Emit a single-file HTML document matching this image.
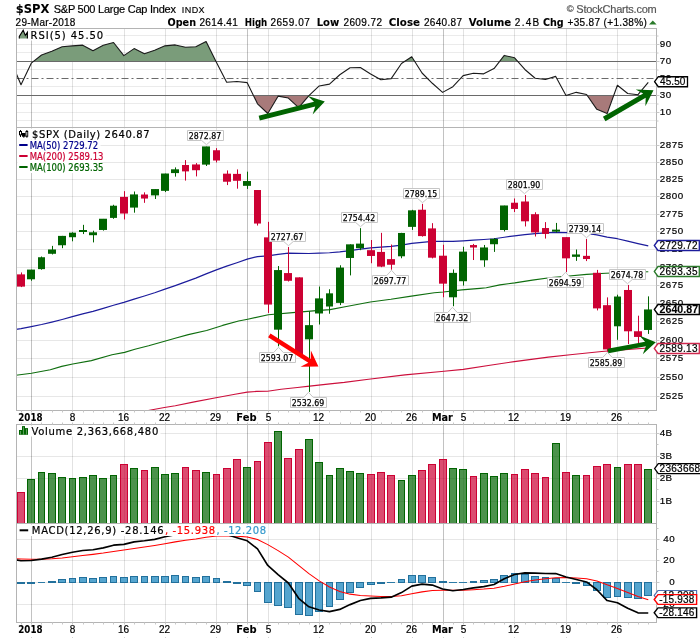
<!DOCTYPE html>
<html><head><meta charset="utf-8"><title>$SPX S&amp;P 500 Large Cap Index</title>
<style>html,body{margin:0;padding:0;background:#fff}svg{display:block;will-change:transform;opacity:0.999}</style></head>
<body><svg width="700" height="639" viewBox="0 0 700 639">
<rect width="700" height="639" fill="#fff"/>
<defs>
<clipPath id="crsi"><rect x="16.5" y="28.5" width="640.0" height="99.0"/></clipPath>
<clipPath id="cmain"><rect x="16.5" y="127.5" width="640.0" height="283.0"/></clipPath>
<clipPath id="cvol"><rect x="16.5" y="424.5" width="640.0" height="99.0"/></clipPath>
<clipPath id="cmacd"><rect x="16.5" y="523.5" width="640.0" height="99.0"/></clipPath>
<clipPath id="cob"><rect x="16.5" y="28.5" width="640.0" height="33.5"/></clipPath>
<clipPath id="cos"><rect x="16.5" y="96.0" width="640.0" height="31.5"/></clipPath>
</defs>
<text x="15.80" y="13.20" font-family='"DejaVu Sans", Verdana, sans-serif' font-size="12.8" font-weight="bold" fill="#000" stroke="#000" stroke-width="0.08" text-anchor="start" textLength="33.60" lengthAdjust="spacingAndGlyphs" >$SPX</text>
<text x="53.70" y="13.00" font-family='"Liberation Sans", Arial, sans-serif' font-size="11" font-weight="normal" fill="#000" stroke="#000" stroke-width="0.2" text-anchor="start" textLength="122.30" lengthAdjust="spacing" >S&amp;P 500 Large Cap Index</text>
<text x="181.80" y="12.50" font-family='"Liberation Sans", Arial, sans-serif' font-size="9" font-weight="normal" fill="#000" stroke="#000" stroke-width="0.15" text-anchor="start" textLength="22.80" lengthAdjust="spacing" >INDX</text>
<text x="566.70" y="12.60" font-family='"Liberation Sans", Arial, sans-serif' font-size="11" font-weight="normal" fill="#555" stroke="#555" stroke-width="0.2" text-anchor="start" textLength="90.00" lengthAdjust="spacing" ><tspan font-size="9.5" dy="-0.6">©</tspan><tspan dy="0.6"> StockCharts.com</tspan></text>
<text x="15.60" y="25.60" font-family='"Liberation Sans", Arial, sans-serif' font-size="10" font-weight="normal" fill="#000" stroke="#000" stroke-width="0.2" text-anchor="start" textLength="59.80" lengthAdjust="spacing" >29-Mar-2018</text>
<text x="167.50" y="25.60" font-family='"DejaVu Sans", Verdana, sans-serif' font-size="10" font-weight="bold" fill="#000" stroke="#000" stroke-width="0.08" text-anchor="start" textLength="28.50" lengthAdjust="spacingAndGlyphs" >Open</text>
<text x="199.40" y="25.60" font-family='"Liberation Sans", Arial, sans-serif' font-size="10" font-weight="normal" fill="#000" stroke="#000" stroke-width="0.2" text-anchor="start" textLength="38.40" lengthAdjust="spacing" >2614.41</text>
<text x="244.70" y="25.60" font-family='"DejaVu Sans", Verdana, sans-serif' font-size="10" font-weight="bold" fill="#000" stroke="#000" stroke-width="0.08" text-anchor="start" textLength="22.60" lengthAdjust="spacingAndGlyphs" >High</text>
<text x="270.40" y="25.60" font-family='"Liberation Sans", Arial, sans-serif' font-size="10" font-weight="normal" fill="#000" stroke="#000" stroke-width="0.2" text-anchor="start" textLength="39.40" lengthAdjust="spacing" >2659.07</text>
<text x="316.70" y="25.60" font-family='"DejaVu Sans", Verdana, sans-serif' font-size="10" font-weight="bold" fill="#000" stroke="#000" stroke-width="0.08" text-anchor="start" textLength="22.60" lengthAdjust="spacingAndGlyphs" >Low</text>
<text x="343.40" y="25.60" font-family='"Liberation Sans", Arial, sans-serif' font-size="10" font-weight="normal" fill="#000" stroke="#000" stroke-width="0.2" text-anchor="start" textLength="38.70" lengthAdjust="spacing" >2609.72</text>
<text x="388.80" y="25.60" font-family='"DejaVu Sans", Verdana, sans-serif' font-size="10" font-weight="bold" fill="#000" stroke="#000" stroke-width="0.08" text-anchor="start" textLength="31.20" lengthAdjust="spacingAndGlyphs" >Close</text>
<text x="424.00" y="25.60" font-family='"Liberation Sans", Arial, sans-serif' font-size="10" font-weight="normal" fill="#000" stroke="#000" stroke-width="0.2" text-anchor="start" textLength="38.00" lengthAdjust="spacing" >2640.87</text>
<text x="468.80" y="25.60" font-family='"DejaVu Sans", Verdana, sans-serif' font-size="10" font-weight="bold" fill="#000" stroke="#000" stroke-width="0.08" text-anchor="start" textLength="42.40" lengthAdjust="spacingAndGlyphs" >Volume</text>
<text x="514.80" y="25.60" font-family='"Liberation Sans", Arial, sans-serif' font-size="10" font-weight="normal" fill="#000" stroke="#000" stroke-width="0.2" text-anchor="start" textLength="24.40" lengthAdjust="spacing" >2.4B</text>
<text x="543.00" y="25.60" font-family='"DejaVu Sans", Verdana, sans-serif' font-size="10" font-weight="bold" fill="#000" stroke="#000" stroke-width="0.08" text-anchor="start" textLength="20.70" lengthAdjust="spacingAndGlyphs" >Chg</text>
<text x="567.50" y="25.60" font-family='"Liberation Sans", Arial, sans-serif' font-size="10" font-weight="normal" fill="#000" stroke="#000" stroke-width="0.2" text-anchor="start" textLength="79.30" lengthAdjust="spacing" >+35.87 (+1.38%)</text>
<path d="M649 24.6 L652.8 20.4 L656.6 24.6 Z" fill="#2a7a2a"/>
<line x1="16.5" y1="35.5" x2="656.5" y2="35.5" stroke="#000" stroke-opacity="0.08" stroke-width="1"/>
<line x1="16.5" y1="44.5" x2="656.5" y2="44.5" stroke="#000" stroke-opacity="0.08" stroke-width="1"/>
<line x1="16.5" y1="52.5" x2="656.5" y2="52.5" stroke="#000" stroke-opacity="0.08" stroke-width="1"/>
<line x1="16.5" y1="69.5" x2="656.5" y2="69.5" stroke="#000" stroke-opacity="0.08" stroke-width="1"/>
<line x1="16.5" y1="86.5" x2="656.5" y2="86.5" stroke="#000" stroke-opacity="0.08" stroke-width="1"/>
<line x1="16.5" y1="103.5" x2="656.5" y2="103.5" stroke="#000" stroke-opacity="0.08" stroke-width="1"/>
<line x1="16.5" y1="112.5" x2="656.5" y2="112.5" stroke="#000" stroke-opacity="0.08" stroke-width="1"/>
<line x1="16.5" y1="120.5" x2="656.5" y2="120.5" stroke="#000" stroke-opacity="0.08" stroke-width="1"/>
<line x1="31.5" y1="28.5" x2="31.5" y2="127.5" stroke="#000" stroke-opacity="0.24" stroke-width="1"/>
<line x1="72.5" y1="28.5" x2="72.5" y2="127.5" stroke="#000" stroke-opacity="0.115" stroke-width="1"/>
<line x1="124.5" y1="28.5" x2="124.5" y2="127.5" stroke="#000" stroke-opacity="0.115" stroke-width="1"/>
<line x1="165.5" y1="28.5" x2="165.5" y2="127.5" stroke="#000" stroke-opacity="0.115" stroke-width="1"/>
<line x1="216.5" y1="28.5" x2="216.5" y2="127.5" stroke="#000" stroke-opacity="0.115" stroke-width="1"/>
<line x1="247.5" y1="28.5" x2="247.5" y2="127.5" stroke="#000" stroke-opacity="0.24" stroke-width="1"/>
<line x1="268.5" y1="28.5" x2="268.5" y2="127.5" stroke="#000" stroke-opacity="0.115" stroke-width="1"/>
<line x1="319.5" y1="28.5" x2="319.5" y2="127.5" stroke="#000" stroke-opacity="0.115" stroke-width="1"/>
<line x1="371.5" y1="28.5" x2="371.5" y2="127.5" stroke="#000" stroke-opacity="0.115" stroke-width="1"/>
<line x1="412.5" y1="28.5" x2="412.5" y2="127.5" stroke="#000" stroke-opacity="0.115" stroke-width="1"/>
<line x1="443.5" y1="28.5" x2="443.5" y2="127.5" stroke="#000" stroke-opacity="0.24" stroke-width="1"/>
<line x1="463.5" y1="28.5" x2="463.5" y2="127.5" stroke="#000" stroke-opacity="0.115" stroke-width="1"/>
<line x1="514.5" y1="28.5" x2="514.5" y2="127.5" stroke="#000" stroke-opacity="0.115" stroke-width="1"/>
<line x1="566.5" y1="28.5" x2="566.5" y2="127.5" stroke="#000" stroke-opacity="0.115" stroke-width="1"/>
<line x1="617.5" y1="28.5" x2="617.5" y2="127.5" stroke="#000" stroke-opacity="0.115" stroke-width="1"/>
<g clip-path="url(#cob)"><polygon points="10.72,62.0 10.72,60.62 21.00,84.75 31.28,63.14 41.57,54.97 51.85,51.32 62.13,46.78 72.41,45.90 82.70,45.17 92.98,50.71 103.26,45.33 113.55,42.47 123.83,55.63 134.11,48.60 144.40,53.81 154.68,50.32 164.96,45.86 175.25,44.92 185.53,47.20 195.81,46.76 206.09,41.52 216.38,62.15 226.66,82.32 236.94,81.46 247.23,82.65 257.51,103.78 267.79,113.52 278.07,96.16 288.36,98.03 298.64,107.53 308.92,95.71 319.21,85.96 329.49,84.09 339.77,74.76 350.06,67.74 360.34,67.52 370.62,73.99 380.90,79.82 391.19,78.65 401.47,63.56 411.75,56.73 422.04,73.00 432.32,83.28 442.60,92.38 452.89,86.65 463.17,75.63 473.45,73.18 483.73,73.85 494.02,68.60 504.30,55.42 514.58,57.80 524.87,69.47 535.15,78.28 545.43,79.49 555.72,76.39 566.00,95.43 576.28,92.34 586.56,94.48 596.85,109.35 607.13,113.58 617.41,85.25 627.70,93.47 637.98,94.72 648.26,82.32 648.26,62.0" fill="#7a9c7a"/></g>
<g clip-path="url(#cos)"><polygon points="10.72,96.0 10.72,60.62 21.00,84.75 31.28,63.14 41.57,54.97 51.85,51.32 62.13,46.78 72.41,45.90 82.70,45.17 92.98,50.71 103.26,45.33 113.55,42.47 123.83,55.63 134.11,48.60 144.40,53.81 154.68,50.32 164.96,45.86 175.25,44.92 185.53,47.20 195.81,46.76 206.09,41.52 216.38,62.15 226.66,82.32 236.94,81.46 247.23,82.65 257.51,103.78 267.79,113.52 278.07,96.16 288.36,98.03 298.64,107.53 308.92,95.71 319.21,85.96 329.49,84.09 339.77,74.76 350.06,67.74 360.34,67.52 370.62,73.99 380.90,79.82 391.19,78.65 401.47,63.56 411.75,56.73 422.04,73.00 432.32,83.28 442.60,92.38 452.89,86.65 463.17,75.63 473.45,73.18 483.73,73.85 494.02,68.60 504.30,55.42 514.58,57.80 524.87,69.47 535.15,78.28 545.43,79.49 555.72,76.39 566.00,95.43 576.28,92.34 586.56,94.48 596.85,109.35 607.13,113.58 617.41,85.25 627.70,93.47 637.98,94.72 648.26,82.32 648.26,96.0" fill="#a87a7a"/></g>
<line x1="16.5" y1="61.5" x2="656.5" y2="61.5" stroke="#6a6a6a" stroke-width="1"/>
<line x1="16.5" y1="95.5" x2="656.5" y2="95.5" stroke="#6a6a6a" stroke-width="1"/>
<line x1="16.5" y1="78.5" x2="656.5" y2="78.5" stroke="#6a6a6a" stroke-width="1" stroke-dasharray="7,3,2,3"/>
<polyline points="10.72,60.62 21.00,84.75 31.28,63.14 41.57,54.97 51.85,51.32 62.13,46.78 72.41,45.90 82.70,45.17 92.98,50.71 103.26,45.33 113.55,42.47 123.83,55.63 134.11,48.60 144.40,53.81 154.68,50.32 164.96,45.86 175.25,44.92 185.53,47.20 195.81,46.76 206.09,41.52 216.38,62.15 226.66,82.32 236.94,81.46 247.23,82.65 257.51,103.78 267.79,113.52 278.07,96.16 288.36,98.03 298.64,107.53 308.92,95.71 319.21,85.96 329.49,84.09 339.77,74.76 350.06,67.74 360.34,67.52 370.62,73.99 380.90,79.82 391.19,78.65 401.47,63.56 411.75,56.73 422.04,73.00 432.32,83.28 442.60,92.38 452.89,86.65 463.17,75.63 473.45,73.18 483.73,73.85 494.02,68.60 504.30,55.42 514.58,57.80 524.87,69.47 535.15,78.28 545.43,79.49 555.72,76.39 566.00,95.43 576.28,92.34 586.56,94.48 596.85,109.35 607.13,113.58 617.41,85.25 627.70,93.47 637.98,94.72 648.26,82.32" fill="none" stroke="#1a1a1a" stroke-width="1.1" clip-path="url(#crsi)" stroke-linejoin="round"/>
<rect x="17.5" y="29.5" width="88" height="11" fill="#fff"/>
<path d="M19.3 38.6 L19.3 36.5 L23.2 30.3 L25.3 35.4 L27.4 32.3 L27.4 38.6 Z" fill="#7a9c7a"/>
<path d="M19.3 38.6 L19.3 36.5 L23.2 30.3 L25.3 35.4 L27.4 32.3 L27.4 38.6" fill="none" stroke="#000" stroke-width="1.1"/>
<text x="30.60" y="38.90" font-family='"DejaVu Sans", Verdana, sans-serif' font-size="10" font-weight="normal" fill="#000" stroke="#000" stroke-width="0.2" text-anchor="start" textLength="72.60" lengthAdjust="spacing" >RSI(5) 45.50</text>
<rect x="16.5" y="28.5" width="640.0" height="99.0" fill="none" stroke="#b4b4b4" stroke-width="1"/>
<line x1="656.5" y1="121.0" x2="658.5" y2="121.0" stroke="#c8c8c8" stroke-width="1"/>
<line x1="656.5" y1="112.5" x2="659.5" y2="112.5" stroke="#c8c8c8" stroke-width="1"/>
<line x1="656.5" y1="104.0" x2="658.5" y2="104.0" stroke="#c8c8c8" stroke-width="1"/>
<line x1="656.5" y1="95.5" x2="659.5" y2="95.5" stroke="#c8c8c8" stroke-width="1"/>
<line x1="656.5" y1="87.0" x2="658.5" y2="87.0" stroke="#c8c8c8" stroke-width="1"/>
<line x1="656.5" y1="78.5" x2="659.5" y2="78.5" stroke="#c8c8c8" stroke-width="1"/>
<line x1="656.5" y1="70.0" x2="658.5" y2="70.0" stroke="#c8c8c8" stroke-width="1"/>
<line x1="656.5" y1="61.5" x2="659.5" y2="61.5" stroke="#c8c8c8" stroke-width="1"/>
<line x1="656.5" y1="53.0" x2="658.5" y2="53.0" stroke="#c8c8c8" stroke-width="1"/>
<line x1="656.5" y1="44.5" x2="659.5" y2="44.5" stroke="#c8c8c8" stroke-width="1"/>
<line x1="656.5" y1="36.0" x2="658.5" y2="36.0" stroke="#c8c8c8" stroke-width="1"/>
<text x="659.80" y="47.20" font-family='"Liberation Sans", Arial, sans-serif' font-size="9.8" font-weight="normal" fill="#000" stroke="#000" stroke-width="0.2" text-anchor="start" textLength="11.30" lengthAdjust="spacing" >90</text>
<text x="659.80" y="64.20" font-family='"Liberation Sans", Arial, sans-serif' font-size="9.8" font-weight="normal" fill="#000" stroke="#000" stroke-width="0.2" text-anchor="start" textLength="11.30" lengthAdjust="spacing" >70</text>
<text x="659.80" y="81.20" font-family='"Liberation Sans", Arial, sans-serif' font-size="9.8" font-weight="normal" fill="#000" stroke="#000" stroke-width="0.2" text-anchor="start" textLength="11.30" lengthAdjust="spacing" >50</text>
<text x="659.80" y="98.20" font-family='"Liberation Sans", Arial, sans-serif' font-size="9.8" font-weight="normal" fill="#000" stroke="#000" stroke-width="0.2" text-anchor="start" textLength="11.30" lengthAdjust="spacing" >30</text>
<text x="659.80" y="115.20" font-family='"Liberation Sans", Arial, sans-serif' font-size="9.8" font-weight="normal" fill="#000" stroke="#000" stroke-width="0.2" text-anchor="start" textLength="11.30" lengthAdjust="spacing" >10</text>
<polygon points="324.80,101.50 307.89,95.90 314.03,101.77 258.66,115.87 259.84,120.53 315.22,106.42 312.63,114.51" fill="#006400"/>
<polygon points="653.50,90.30 635.71,89.55 643.17,93.42 602.94,116.84 605.46,121.16 645.68,97.74 645.37,106.14" fill="#006400"/>
<path d="M654.6 81.72500000000001 L658.3 76.72500000000001 L687.5 76.72500000000001 L687.5 86.72500000000001 L658.3 86.72500000000001 Z" fill="#fff" stroke="#000" stroke-width="1.3"/>
<text x="660.00" y="85.13" font-family='"Liberation Sans", Arial, sans-serif' font-size="10" font-weight="normal" fill="#000" stroke="#000" stroke-width="0.2" text-anchor="start" textLength="25.40" lengthAdjust="spacing" >45.50</text>
<line x1="16.5" y1="396.5" x2="656.5" y2="396.5" stroke="#000" stroke-opacity="0.095" stroke-width="1"/>
<line x1="16.5" y1="377.5" x2="656.5" y2="377.5" stroke="#000" stroke-opacity="0.095" stroke-width="1"/>
<line x1="16.5" y1="358.5" x2="656.5" y2="358.5" stroke="#000" stroke-opacity="0.095" stroke-width="1"/>
<line x1="16.5" y1="340.5" x2="656.5" y2="340.5" stroke="#000" stroke-opacity="0.095" stroke-width="1"/>
<line x1="16.5" y1="321.5" x2="656.5" y2="321.5" stroke="#000" stroke-opacity="0.095" stroke-width="1"/>
<line x1="16.5" y1="303.5" x2="656.5" y2="303.5" stroke="#000" stroke-opacity="0.095" stroke-width="1"/>
<line x1="16.5" y1="285.5" x2="656.5" y2="285.5" stroke="#000" stroke-opacity="0.095" stroke-width="1"/>
<line x1="16.5" y1="267.5" x2="656.5" y2="267.5" stroke="#000" stroke-opacity="0.095" stroke-width="1"/>
<line x1="16.5" y1="249.5" x2="656.5" y2="249.5" stroke="#000" stroke-opacity="0.095" stroke-width="1"/>
<line x1="16.5" y1="231.5" x2="656.5" y2="231.5" stroke="#000" stroke-opacity="0.095" stroke-width="1"/>
<line x1="16.5" y1="214.5" x2="656.5" y2="214.5" stroke="#000" stroke-opacity="0.095" stroke-width="1"/>
<line x1="16.5" y1="196.5" x2="656.5" y2="196.5" stroke="#000" stroke-opacity="0.095" stroke-width="1"/>
<line x1="16.5" y1="179.5" x2="656.5" y2="179.5" stroke="#000" stroke-opacity="0.095" stroke-width="1"/>
<line x1="16.5" y1="162.5" x2="656.5" y2="162.5" stroke="#000" stroke-opacity="0.095" stroke-width="1"/>
<line x1="16.5" y1="145.5" x2="656.5" y2="145.5" stroke="#000" stroke-opacity="0.095" stroke-width="1"/>
<line x1="31.5" y1="127.5" x2="31.5" y2="410.5" stroke="#000" stroke-opacity="0.24" stroke-width="1"/>
<line x1="72.5" y1="127.5" x2="72.5" y2="410.5" stroke="#000" stroke-opacity="0.115" stroke-width="1"/>
<line x1="124.5" y1="127.5" x2="124.5" y2="410.5" stroke="#000" stroke-opacity="0.115" stroke-width="1"/>
<line x1="165.5" y1="127.5" x2="165.5" y2="410.5" stroke="#000" stroke-opacity="0.115" stroke-width="1"/>
<line x1="216.5" y1="127.5" x2="216.5" y2="410.5" stroke="#000" stroke-opacity="0.115" stroke-width="1"/>
<line x1="247.5" y1="127.5" x2="247.5" y2="410.5" stroke="#000" stroke-opacity="0.24" stroke-width="1"/>
<line x1="268.5" y1="127.5" x2="268.5" y2="410.5" stroke="#000" stroke-opacity="0.115" stroke-width="1"/>
<line x1="319.5" y1="127.5" x2="319.5" y2="410.5" stroke="#000" stroke-opacity="0.115" stroke-width="1"/>
<line x1="371.5" y1="127.5" x2="371.5" y2="410.5" stroke="#000" stroke-opacity="0.115" stroke-width="1"/>
<line x1="412.5" y1="127.5" x2="412.5" y2="410.5" stroke="#000" stroke-opacity="0.115" stroke-width="1"/>
<line x1="443.5" y1="127.5" x2="443.5" y2="410.5" stroke="#000" stroke-opacity="0.24" stroke-width="1"/>
<line x1="463.5" y1="127.5" x2="463.5" y2="410.5" stroke="#000" stroke-opacity="0.115" stroke-width="1"/>
<line x1="514.5" y1="127.5" x2="514.5" y2="410.5" stroke="#000" stroke-opacity="0.115" stroke-width="1"/>
<line x1="566.5" y1="127.5" x2="566.5" y2="410.5" stroke="#000" stroke-opacity="0.115" stroke-width="1"/>
<line x1="617.5" y1="127.5" x2="617.5" y2="410.5" stroke="#000" stroke-opacity="0.115" stroke-width="1"/>
<g clip-path="url(#cmain)">
<polyline points="10.72,330.29 21.00,328.62 31.28,326.60 41.57,324.52 51.85,322.13 62.13,319.51 72.41,316.66 82.70,313.81 92.98,311.31 103.26,308.41 113.55,305.28 123.83,302.35 134.11,299.06 144.40,295.95 154.68,292.72 164.96,289.16 175.25,285.56 185.53,281.86 195.81,278.10 206.09,273.91 216.38,269.92 226.66,266.17 236.94,262.71 247.23,259.19 257.51,256.58 267.79,255.82 278.07,254.37 288.36,253.20 298.64,253.44 308.92,253.50 319.21,253.03 329.49,252.77 339.77,251.96 350.06,250.66 360.34,249.20 370.62,247.96 380.90,247.05 391.19,246.30 401.47,245.07 411.75,243.43 422.04,242.28 432.32,241.40 442.60,241.38 452.89,241.36 463.17,240.80 473.45,240.11 483.73,239.51 494.02,238.73 504.30,237.23 514.58,235.81 524.87,234.71 535.15,233.64 545.43,232.92 555.72,232.37 566.00,232.53 576.28,232.89 586.56,233.40 596.85,234.92 607.13,237.17 617.41,238.71 627.70,241.17 637.98,243.60 648.26,245.89" fill="none" stroke="#1c1c9c" stroke-width="1.2" stroke-linejoin="round"/>
<polyline points="6.00,376.60 16.00,375.30 31.50,373.30 50.30,369.80 61.70,366.40 72.70,364.00 91.40,360.60 112.00,354.70 124.60,352.40 134.90,349.30 148.60,345.80 164.60,341.20 176.00,338.00 188.30,334.60 206.60,330.50 222.60,325.40 238.60,321.00 247.70,319.20 268.30,314.80 295.70,312.40 316.30,310.60 330.00,309.60 345.10,306.70 370.30,302.00 390.90,299.30 411.40,296.10 434.30,292.80 443.40,292.00 461.70,289.90 480.00,288.40 486.30,287.80 499.90,284.90 514.80,282.90 532.40,280.10 551.40,277.50 566.40,276.30 586.70,274.40 605.70,273.30 625.00,272.50 648.30,271.70" fill="none" stroke="#0f6e0f" stroke-width="1.1" stroke-linejoin="round"/>
<polyline points="138.00,412.60 150.90,410.00 164.40,407.50 175.30,405.80 194.30,401.90 216.00,397.80 235.00,394.30 247.20,392.10 256.70,391.40 267.60,391.20 281.10,389.20 297.40,387.50 309.60,386.10 330.00,383.90 344.30,382.40 368.60,379.20 405.00,374.90 441.40,371.50 463.30,369.40 490.00,365.20 514.30,361.60 548.30,357.10 572.50,354.50 601.70,351.50 625.00,349.60 648.30,348.00" fill="none" stroke="#cc0f3c" stroke-width="1.1" stroke-linejoin="round"/>
<line x1="21.5" y1="272.44" x2="21.5" y2="287.10" stroke="#cc0033" stroke-width="1"/>
<rect x="17" y="274.38" width="8" height="12.22" fill="#cc0033"/>
<line x1="31.5" y1="269.73" x2="31.5" y2="280.77" stroke="#006400" stroke-width="1"/>
<rect x="27" y="269.59" width="8" height="9.69" fill="#006400"/>
<line x1="41.5" y1="256.51" x2="41.5" y2="269.68" stroke="#006400" stroke-width="1"/>
<rect x="38" y="257.24" width="7" height="11.88" fill="#006400"/>
<line x1="52.5" y1="245.89" x2="52.5" y2="254.46" stroke="#006400" stroke-width="1"/>
<rect x="48" y="249.46" width="8" height="4.33" fill="#006400"/>
<line x1="62.5" y1="235.88" x2="62.5" y2="248.17" stroke="#006400" stroke-width="1"/>
<rect x="58" y="235.89" width="8" height="9.36" fill="#006400"/>
<line x1="72.5" y1="232.31" x2="72.5" y2="241.31" stroke="#006400" stroke-width="1"/>
<rect x="69" y="232.67" width="7" height="4.55" fill="#006400"/>
<line x1="83.5" y1="224.83" x2="83.5" y2="234.07" stroke="#006400" stroke-width="1"/>
<rect x="79" y="230.00" width="8" height="2.00" fill="#006400"/>
<line x1="93.5" y1="230.70" x2="93.5" y2="242.40" stroke="#006400" stroke-width="1"/>
<rect x="89" y="232.31" width="8" height="2.89" fill="#006400"/>
<line x1="103.5" y1="218.94" x2="103.5" y2="230.60" stroke="#006400" stroke-width="1"/>
<rect x="99" y="218.74" width="8" height="11.23" fill="#006400"/>
<line x1="113.5" y1="204.79" x2="113.5" y2="218.78" stroke="#006400" stroke-width="1"/>
<rect x="110" y="205.71" width="7" height="12.19" fill="#006400"/>
<line x1="124.5" y1="191.17" x2="124.5" y2="219.48" stroke="#cc0033" stroke-width="1"/>
<rect x="120" y="196.89" width="8" height="16.65" fill="#cc0033"/>
<line x1="134.5" y1="191.51" x2="134.5" y2="212.68" stroke="#006400" stroke-width="1"/>
<rect x="130" y="194.41" width="8" height="13.18" fill="#006400"/>
<line x1="144.5" y1="192.35" x2="144.5" y2="202.83" stroke="#cc0033" stroke-width="1"/>
<rect x="141" y="194.52" width="7" height="4.02" fill="#cc0033"/>
<line x1="155.5" y1="189.25" x2="155.5" y2="199.00" stroke="#006400" stroke-width="1"/>
<rect x="151" y="189.07" width="8" height="6.31" fill="#006400"/>
<line x1="165.5" y1="173.67" x2="165.5" y2="192.07" stroke="#006400" stroke-width="1"/>
<rect x="161" y="173.51" width="8" height="17.34" fill="#006400"/>
<line x1="175.5" y1="167.39" x2="175.5" y2="176.64" stroke="#006400" stroke-width="1"/>
<rect x="171" y="169.31" width="8" height="3.78" fill="#006400"/>
<line x1="185.5" y1="160.09" x2="185.5" y2="180.60" stroke="#cc0033" stroke-width="1"/>
<rect x="182" y="165.02" width="7" height="6.37" fill="#cc0033"/>
<line x1="196.5" y1="163.09" x2="196.5" y2="176.40" stroke="#cc0033" stroke-width="1"/>
<rect x="192" y="164.46" width="8" height="5.76" fill="#cc0033"/>
<line x1="206.5" y1="146.63" x2="206.5" y2="166.01" stroke="#006400" stroke-width="1"/>
<rect x="202" y="146.43" width="8" height="18.19" fill="#006400"/>
<line x1="216.5" y1="148.15" x2="216.5" y2="162.40" stroke="#cc0033" stroke-width="1"/>
<rect x="213" y="150.24" width="7" height="10.27" fill="#cc0033"/>
<line x1="227.5" y1="170.45" x2="227.5" y2="185.08" stroke="#cc0033" stroke-width="1"/>
<rect x="223" y="173.67" width="8" height="8.06" fill="#cc0033"/>
<line x1="237.5" y1="169.42" x2="237.5" y2="188.68" stroke="#cc0033" stroke-width="1"/>
<rect x="233" y="173.89" width="8" height="6.89" fill="#cc0033"/>
<line x1="247.5" y1="171.67" x2="247.5" y2="188.91" stroke="#006400" stroke-width="1"/>
<rect x="243" y="181.04" width="8" height="4.80" fill="#006400"/>
<line x1="257.5" y1="190.22" x2="257.5" y2="225.55" stroke="#cc0033" stroke-width="1"/>
<rect x="254" y="190.02" width="7" height="33.52" fill="#cc0033"/>
<line x1="268.5" y1="221.85" x2="268.5" y2="312.93" stroke="#cc0033" stroke-width="1"/>
<rect x="264" y="237.36" width="8" height="67.18" fill="#cc0033"/>
<line x1="278.5" y1="266.04" x2="278.5" y2="346.31" stroke="#006400" stroke-width="1"/>
<rect x="274" y="270.07" width="8" height="59.60" fill="#006400"/>
<line x1="288.5" y1="247.04" x2="288.5" y2="281.52" stroke="#cc0033" stroke-width="1"/>
<rect x="284" y="273.08" width="8" height="7.70" fill="#cc0033"/>
<line x1="299.5" y1="277.37" x2="299.5" y2="355.68" stroke="#cc0033" stroke-width="1"/>
<rect x="295" y="277.36" width="8" height="77.49" fill="#cc0033"/>
<line x1="309.5" y1="311.27" x2="309.5" y2="391.93" stroke="#006400" stroke-width="1"/>
<rect x="305" y="325.15" width="8" height="14.18" fill="#006400"/>
<line x1="319.5" y1="286.52" x2="319.5" y2="324.50" stroke="#006400" stroke-width="1"/>
<rect x="315" y="298.39" width="8" height="15.08" fill="#006400"/>
<line x1="329.5" y1="289.26" x2="329.5" y2="313.73" stroke="#006400" stroke-width="1"/>
<rect x="326" y="293.34" width="7" height="13.16" fill="#006400"/>
<line x1="340.5" y1="265.28" x2="340.5" y2="305.10" stroke="#006400" stroke-width="1"/>
<rect x="336" y="267.57" width="8" height="35.32" fill="#006400"/>
<line x1="350.5" y1="244.32" x2="350.5" y2="275.40" stroke="#006400" stroke-width="1"/>
<rect x="346" y="244.34" width="8" height="13.62" fill="#006400"/>
<line x1="360.5" y1="228.15" x2="360.5" y2="250.16" stroke="#006400" stroke-width="1"/>
<rect x="356" y="243.62" width="8" height="4.60" fill="#006400"/>
<line x1="371.5" y1="240.01" x2="371.5" y2="263.24" stroke="#cc0033" stroke-width="1"/>
<rect x="367" y="250.17" width="8" height="5.79" fill="#cc0033"/>
<line x1="381.5" y1="232.84" x2="381.5" y2="267.16" stroke="#cc0033" stroke-width="1"/>
<rect x="377" y="251.92" width="8" height="14.71" fill="#cc0033"/>
<line x1="391.5" y1="244.50" x2="391.5" y2="269.68" stroke="#cc0033" stroke-width="1"/>
<rect x="387" y="259.13" width="8" height="5.62" fill="#cc0033"/>
<line x1="401.5" y1="232.84" x2="401.5" y2="258.26" stroke="#006400" stroke-width="1"/>
<rect x="398" y="232.96" width="7" height="23.33" fill="#006400"/>
<line x1="412.5" y1="209.81" x2="412.5" y2="229.90" stroke="#006400" stroke-width="1"/>
<rect x="408" y="210.33" width="8" height="16.55" fill="#006400"/>
<line x1="422.5" y1="203.89" x2="422.5" y2="236.63" stroke="#cc0033" stroke-width="1"/>
<rect x="418" y="209.74" width="8" height="26.35" fill="#cc0033"/>
<line x1="432.5" y1="223.17" x2="432.5" y2="258.40" stroke="#cc0033" stroke-width="1"/>
<rect x="428" y="228.40" width="8" height="29.29" fill="#cc0033"/>
<line x1="443.5" y1="244.76" x2="443.5" y2="297.23" stroke="#cc0033" stroke-width="1"/>
<rect x="439" y="255.70" width="8" height="27.96" fill="#cc0033"/>
<line x1="453.5" y1="269.47" x2="453.5" y2="306.23" stroke="#006400" stroke-width="1"/>
<rect x="449" y="272.87" width="8" height="24.42" fill="#006400"/>
<line x1="463.5" y1="246.75" x2="463.5" y2="285.55" stroke="#006400" stroke-width="1"/>
<rect x="459" y="251.63" width="8" height="29.59" fill="#006400"/>
<line x1="473.5" y1="243.92" x2="473.5" y2="260.03" stroke="#cc0033" stroke-width="1"/>
<rect x="470" y="245.06" width="7" height="2.46" fill="#cc0033"/>
<line x1="484.5" y1="244.96" x2="484.5" y2="266.84" stroke="#006400" stroke-width="1"/>
<rect x="480" y="247.46" width="8" height="12.84" fill="#006400"/>
<line x1="494.5" y1="237.99" x2="494.5" y2="251.91" stroke="#006400" stroke-width="1"/>
<rect x="490" y="238.84" width="8" height="5.40" fill="#006400"/>
<line x1="504.5" y1="205.68" x2="504.5" y2="231.47" stroke="#006400" stroke-width="1"/>
<rect x="500" y="205.48" width="8" height="24.53" fill="#006400"/>
<line x1="514.5" y1="198.46" x2="514.5" y2="212.07" stroke="#cc0033" stroke-width="1"/>
<rect x="511" y="202.73" width="7" height="6.22" fill="#cc0033"/>
<line x1="525.5" y1="195.06" x2="525.5" y2="226.46" stroke="#cc0033" stroke-width="1"/>
<rect x="521" y="201.50" width="8" height="19.81" fill="#cc0033"/>
<line x1="535.5" y1="212.27" x2="535.5" y2="236.52" stroke="#cc0033" stroke-width="1"/>
<rect x="531" y="214.19" width="8" height="18.23" fill="#cc0033"/>
<line x1="545.5" y1="222.11" x2="545.5" y2="238.57" stroke="#cc0033" stroke-width="1"/>
<rect x="542" y="228.05" width="7" height="5.88" fill="#cc0033"/>
<line x1="556.5" y1="222.93" x2="556.5" y2="232.58" stroke="#006400" stroke-width="1"/>
<rect x="552" y="229.64" width="8" height="2.01" fill="#006400"/>
<line x1="566.5" y1="237.34" x2="566.5" y2="271.97" stroke="#cc0033" stroke-width="1"/>
<rect x="562" y="237.14" width="8" height="21.20" fill="#cc0033"/>
<line x1="576.5" y1="249.49" x2="576.5" y2="260.89" stroke="#006400" stroke-width="1"/>
<rect x="572" y="254.47" width="8" height="2.35" fill="#006400"/>
<line x1="586.5" y1="238.92" x2="586.5" y2="261.08" stroke="#cc0033" stroke-width="1"/>
<rect x="583" y="255.86" width="7" height="3.18" fill="#cc0033"/>
<line x1="597.5" y1="269.88" x2="597.5" y2="310.42" stroke="#cc0033" stroke-width="1"/>
<rect x="593" y="272.79" width="8" height="35.60" fill="#cc0033"/>
<line x1="607.5" y1="297.38" x2="607.5" y2="351.68" stroke="#cc0033" stroke-width="1"/>
<rect x="603" y="305.18" width="8" height="44.23" fill="#cc0033"/>
<line x1="617.5" y1="294.69" x2="617.5" y2="339.80" stroke="#006400" stroke-width="1"/>
<rect x="614" y="296.53" width="7" height="29.76" fill="#006400"/>
<line x1="628.5" y1="284.95" x2="628.5" y2="344.04" stroke="#cc0033" stroke-width="1"/>
<rect x="624" y="289.98" width="8" height="41.30" fill="#cc0033"/>
<line x1="638.5" y1="315.69" x2="638.5" y2="346.32" stroke="#cc0033" stroke-width="1"/>
<rect x="634" y="331.25" width="8" height="5.68" fill="#cc0033"/>
<line x1="648.5" y1="296.36" x2="648.5" y2="333.92" stroke="#006400" stroke-width="1"/>
<rect x="644" y="309.45" width="8" height="20.50" fill="#006400"/>
</g>
<path d="M187.5 130.5 H223.5 V140.5 H211.3 L206.5 144.7 L201.7 140.5 H187.5 Z" fill="#fff" stroke="#c6c6c6" stroke-width="1"/>
<text x="188.80" y="138.90" font-family='"DejaVu Sans Condensed", "DejaVu Sans", sans-serif' font-size="9.4" font-weight="normal" fill="#000" stroke="#000" stroke-width="0.25" text-anchor="start" textLength="32.40" lengthAdjust="spacingAndGlyphs" >2872.87</text>
<path d="M269.5 231.5 H305.5 V241.5 H293.3 L288.5 245.7 L283.7 241.5 H269.5 Z" fill="#fff" stroke="#c6c6c6" stroke-width="1"/>
<text x="270.80" y="239.90" font-family='"DejaVu Sans Condensed", "DejaVu Sans", sans-serif' font-size="9.4" font-weight="normal" fill="#000" stroke="#000" stroke-width="0.25" text-anchor="start" textLength="32.40" lengthAdjust="spacingAndGlyphs" >2727.67</text>
<path d="M259.5 352.5 H273.7 L278.5 347.3 L283.3 352.5 H295.5 V362.5 H259.5 Z" fill="#fff" stroke="#c6c6c6" stroke-width="1"/>
<text x="260.80" y="360.90" font-family='"DejaVu Sans Condensed", "DejaVu Sans", sans-serif' font-size="9.4" font-weight="normal" fill="#000" stroke="#000" stroke-width="0.25" text-anchor="start" textLength="32.40" lengthAdjust="spacingAndGlyphs" >2593.07</text>
<path d="M290.5 397.5 H303.7 L308.5 392.3 L313.3 397.5 H326.5 V407.5 H290.5 Z" fill="#fff" stroke="#c6c6c6" stroke-width="1"/>
<text x="291.80" y="405.90" font-family='"DejaVu Sans Condensed", "DejaVu Sans", sans-serif' font-size="9.4" font-weight="normal" fill="#000" stroke="#000" stroke-width="0.25" text-anchor="start" textLength="32.40" lengthAdjust="spacingAndGlyphs" >2532.69</text>
<path d="M341.5 212.5 H377.5 V222.5 H365.3 L360.5 226.7 L355.7 222.5 H341.5 Z" fill="#fff" stroke="#c6c6c6" stroke-width="1"/>
<text x="342.80" y="220.90" font-family='"DejaVu Sans Condensed", "DejaVu Sans", sans-serif' font-size="9.4" font-weight="normal" fill="#000" stroke="#000" stroke-width="0.25" text-anchor="start" textLength="32.40" lengthAdjust="spacingAndGlyphs" >2754.42</text>
<path d="M372.5 275.5 H386.7 L391.5 270.3 L396.3 275.5 H408.5 V285.5 H372.5 Z" fill="#fff" stroke="#c6c6c6" stroke-width="1"/>
<text x="373.80" y="283.90" font-family='"DejaVu Sans Condensed", "DejaVu Sans", sans-serif' font-size="9.4" font-weight="normal" fill="#000" stroke="#000" stroke-width="0.25" text-anchor="start" textLength="32.40" lengthAdjust="spacingAndGlyphs" >2697.77</text>
<path d="M403.5 188.5 H439.5 V198.5 H427.3 L422.5 202.7 L417.7 198.5 H403.5 Z" fill="#fff" stroke="#c6c6c6" stroke-width="1"/>
<text x="404.80" y="196.90" font-family='"DejaVu Sans Condensed", "DejaVu Sans", sans-serif' font-size="9.4" font-weight="normal" fill="#000" stroke="#000" stroke-width="0.25" text-anchor="start" textLength="32.40" lengthAdjust="spacingAndGlyphs" >2789.15</text>
<path d="M434.5 312.5 H447.7 L452.5 307.3 L457.3 312.5 H470.5 V322.5 H434.5 Z" fill="#fff" stroke="#c6c6c6" stroke-width="1"/>
<text x="435.80" y="320.90" font-family='"DejaVu Sans Condensed", "DejaVu Sans", sans-serif' font-size="9.4" font-weight="normal" fill="#000" stroke="#000" stroke-width="0.25" text-anchor="start" textLength="32.40" lengthAdjust="spacingAndGlyphs" >2647.32</text>
<path d="M506.5 179.5 H542.5 V189.5 H529.3 L524.5 193.7 L519.7 189.5 H506.5 Z" fill="#fff" stroke="#c6c6c6" stroke-width="1"/>
<text x="507.80" y="187.90" font-family='"DejaVu Sans Condensed", "DejaVu Sans", sans-serif' font-size="9.4" font-weight="normal" fill="#000" stroke="#000" stroke-width="0.25" text-anchor="start" textLength="32.40" lengthAdjust="spacingAndGlyphs" >2801.90</text>
<path d="M567.5 223.5 H603.5 V233.5 H591.3 L586.5 237.7 L581.7 233.5 H567.5 Z" fill="#fff" stroke="#c6c6c6" stroke-width="1"/>
<text x="568.80" y="231.90" font-family='"DejaVu Sans Condensed", "DejaVu Sans", sans-serif' font-size="9.4" font-weight="normal" fill="#000" stroke="#000" stroke-width="0.25" text-anchor="start" textLength="32.40" lengthAdjust="spacingAndGlyphs" >2739.14</text>
<path d="M547.5 277.5 H560.7 L565.5 272.3 L570.3 277.5 H583.5 V287.5 H547.5 Z" fill="#fff" stroke="#c6c6c6" stroke-width="1"/>
<text x="548.80" y="285.90" font-family='"DejaVu Sans Condensed", "DejaVu Sans", sans-serif' font-size="9.4" font-weight="normal" fill="#000" stroke="#000" stroke-width="0.25" text-anchor="start" textLength="32.40" lengthAdjust="spacingAndGlyphs" >2694.59</text>
<path d="M609.5 269.5 H645.5 V279.5 H632.3 L627.5 283.7 L622.7 279.5 H609.5 Z" fill="#fff" stroke="#c6c6c6" stroke-width="1"/>
<text x="610.80" y="277.90" font-family='"DejaVu Sans Condensed", "DejaVu Sans", sans-serif' font-size="9.4" font-weight="normal" fill="#000" stroke="#000" stroke-width="0.25" text-anchor="start" textLength="32.40" lengthAdjust="spacingAndGlyphs" >2674.78</text>
<path d="M588.5 357.5 H602.7 L607.5 352.3 L612.3 357.5 H624.5 V367.5 H588.5 Z" fill="#fff" stroke="#c6c6c6" stroke-width="1"/>
<text x="589.80" y="365.90" font-family='"DejaVu Sans Condensed", "DejaVu Sans", sans-serif' font-size="9.4" font-weight="normal" fill="#000" stroke="#000" stroke-width="0.25" text-anchor="start" textLength="32.40" lengthAdjust="spacingAndGlyphs" >2585.89</text>
<rect x="17.5" y="128.5" width="134" height="11" fill="#fff"/>
<rect x="17.5" y="139.5" width="83" height="33.5" fill="#fff"/>
<g fill="#000"><rect x="19" y="131" width="3" height="4.3"/><rect x="20" y="130" width="1" height="7"/><rect x="22" y="133" width="3.5" height="3.7"/><rect x="23.3" y="133" width="1" height="4.7"/><rect x="25.5" y="131" width="2.7" height="5.7"/><rect x="26.4" y="130" width="1" height="7.7"/></g><g fill="#fff"><rect x="20" y="132" width="1" height="2.3"/><rect x="26.4" y="132" width="0.9" height="3.7"/></g>
<text x="32.00" y="138.00" font-family='"DejaVu Sans", Verdana, sans-serif' font-size="10" font-weight="normal" fill="#000" stroke="#000" stroke-width="0.2" text-anchor="start" textLength="117.50" lengthAdjust="spacing" >$SPX (Daily) 2640.87</text>
<line x1="19.2" y1="145" x2="27.6" y2="145" stroke="#00008b" stroke-width="2"/>
<text x="29.70" y="149.00" font-family='"DejaVu Sans Condensed", "DejaVu Sans", sans-serif' font-size="9.6" font-weight="normal" fill="#00008b" stroke="#00008b" stroke-width="0.2" text-anchor="start" textLength="68.50" lengthAdjust="spacingAndGlyphs" >MA(50) 2729.72</text>
<line x1="19.2" y1="156" x2="27.6" y2="156" stroke="#cc0033" stroke-width="2"/>
<text x="29.70" y="160.00" font-family='"DejaVu Sans Condensed", "DejaVu Sans", sans-serif' font-size="9.6" font-weight="normal" fill="#cc0033" stroke="#cc0033" stroke-width="0.2" text-anchor="start" textLength="73.80" lengthAdjust="spacingAndGlyphs" >MA(200) 2589.13</text>
<line x1="19.2" y1="167" x2="27.6" y2="167" stroke="#006400" stroke-width="2"/>
<text x="29.70" y="171.00" font-family='"DejaVu Sans Condensed", "DejaVu Sans", sans-serif' font-size="9.6" font-weight="normal" fill="#006400" stroke="#006400" stroke-width="0.2" text-anchor="start" textLength="73.80" lengthAdjust="spacingAndGlyphs" >MA(100) 2693.35</text>
<rect x="16.5" y="127.5" width="640.0" height="283.0" fill="none" stroke="#b4b4b4" stroke-width="1"/>
<line x1="656.5" y1="396.5" x2="659.5" y2="396.5" stroke="#c8c8c8" stroke-width="1"/>
<text x="659.80" y="399.20" font-family='"Liberation Sans", Arial, sans-serif' font-size="9.8" font-weight="normal" fill="#000" stroke="#000" stroke-width="0.2" text-anchor="start" textLength="23.30" lengthAdjust="spacing" >2525</text>
<line x1="656.5" y1="377.5" x2="659.5" y2="377.5" stroke="#c8c8c8" stroke-width="1"/>
<text x="659.80" y="380.20" font-family='"Liberation Sans", Arial, sans-serif' font-size="9.8" font-weight="normal" fill="#000" stroke="#000" stroke-width="0.2" text-anchor="start" textLength="23.30" lengthAdjust="spacing" >2550</text>
<line x1="656.5" y1="358.5" x2="659.5" y2="358.5" stroke="#c8c8c8" stroke-width="1"/>
<text x="659.80" y="361.20" font-family='"Liberation Sans", Arial, sans-serif' font-size="9.8" font-weight="normal" fill="#000" stroke="#000" stroke-width="0.2" text-anchor="start" textLength="23.30" lengthAdjust="spacing" >2575</text>
<line x1="656.5" y1="340.5" x2="659.5" y2="340.5" stroke="#c8c8c8" stroke-width="1"/>
<text x="659.80" y="343.20" font-family='"Liberation Sans", Arial, sans-serif' font-size="9.8" font-weight="normal" fill="#000" stroke="#000" stroke-width="0.2" text-anchor="start" textLength="23.30" lengthAdjust="spacing" >2600</text>
<line x1="656.5" y1="321.5" x2="659.5" y2="321.5" stroke="#c8c8c8" stroke-width="1"/>
<text x="659.80" y="324.20" font-family='"Liberation Sans", Arial, sans-serif' font-size="9.8" font-weight="normal" fill="#000" stroke="#000" stroke-width="0.2" text-anchor="start" textLength="23.30" lengthAdjust="spacing" >2625</text>
<line x1="656.5" y1="303.5" x2="659.5" y2="303.5" stroke="#c8c8c8" stroke-width="1"/>
<text x="659.80" y="306.20" font-family='"Liberation Sans", Arial, sans-serif' font-size="9.8" font-weight="normal" fill="#000" stroke="#000" stroke-width="0.2" text-anchor="start" textLength="23.30" lengthAdjust="spacing" >2650</text>
<line x1="656.5" y1="285.5" x2="659.5" y2="285.5" stroke="#c8c8c8" stroke-width="1"/>
<text x="659.80" y="288.20" font-family='"Liberation Sans", Arial, sans-serif' font-size="9.8" font-weight="normal" fill="#000" stroke="#000" stroke-width="0.2" text-anchor="start" textLength="23.30" lengthAdjust="spacing" >2675</text>
<line x1="656.5" y1="267.5" x2="659.5" y2="267.5" stroke="#c8c8c8" stroke-width="1"/>
<text x="659.80" y="270.20" font-family='"Liberation Sans", Arial, sans-serif' font-size="9.8" font-weight="normal" fill="#000" stroke="#000" stroke-width="0.2" text-anchor="start" textLength="23.30" lengthAdjust="spacing" >2700</text>
<line x1="656.5" y1="249.5" x2="659.5" y2="249.5" stroke="#c8c8c8" stroke-width="1"/>
<text x="659.80" y="252.20" font-family='"Liberation Sans", Arial, sans-serif' font-size="9.8" font-weight="normal" fill="#000" stroke="#000" stroke-width="0.2" text-anchor="start" textLength="23.30" lengthAdjust="spacing" >2725</text>
<line x1="656.5" y1="231.5" x2="659.5" y2="231.5" stroke="#c8c8c8" stroke-width="1"/>
<text x="659.80" y="234.20" font-family='"Liberation Sans", Arial, sans-serif' font-size="9.8" font-weight="normal" fill="#000" stroke="#000" stroke-width="0.2" text-anchor="start" textLength="23.30" lengthAdjust="spacing" >2750</text>
<line x1="656.5" y1="214.5" x2="659.5" y2="214.5" stroke="#c8c8c8" stroke-width="1"/>
<text x="659.80" y="217.20" font-family='"Liberation Sans", Arial, sans-serif' font-size="9.8" font-weight="normal" fill="#000" stroke="#000" stroke-width="0.2" text-anchor="start" textLength="23.30" lengthAdjust="spacing" >2775</text>
<line x1="656.5" y1="196.5" x2="659.5" y2="196.5" stroke="#c8c8c8" stroke-width="1"/>
<text x="659.80" y="199.20" font-family='"Liberation Sans", Arial, sans-serif' font-size="9.8" font-weight="normal" fill="#000" stroke="#000" stroke-width="0.2" text-anchor="start" textLength="23.30" lengthAdjust="spacing" >2800</text>
<line x1="656.5" y1="179.5" x2="659.5" y2="179.5" stroke="#c8c8c8" stroke-width="1"/>
<text x="659.80" y="182.20" font-family='"Liberation Sans", Arial, sans-serif' font-size="9.8" font-weight="normal" fill="#000" stroke="#000" stroke-width="0.2" text-anchor="start" textLength="23.30" lengthAdjust="spacing" >2825</text>
<line x1="656.5" y1="162.5" x2="659.5" y2="162.5" stroke="#c8c8c8" stroke-width="1"/>
<text x="659.80" y="165.20" font-family='"Liberation Sans", Arial, sans-serif' font-size="9.8" font-weight="normal" fill="#000" stroke="#000" stroke-width="0.2" text-anchor="start" textLength="23.30" lengthAdjust="spacing" >2850</text>
<line x1="656.5" y1="145.5" x2="659.5" y2="145.5" stroke="#c8c8c8" stroke-width="1"/>
<text x="659.80" y="148.20" font-family='"Liberation Sans", Arial, sans-serif' font-size="9.8" font-weight="normal" fill="#000" stroke="#000" stroke-width="0.2" text-anchor="start" textLength="23.30" lengthAdjust="spacing" >2875</text>
<polygon points="318.40,366.60 310.89,350.45 310.74,359.07 270.51,333.50 268.09,337.30 308.33,362.87 300.59,366.66" fill="#ff0000"/>
<polygon points="655.80,342.20 639.31,335.47 645.06,341.84 607.58,348.74 608.42,353.26 645.89,346.36 642.79,354.36" fill="#006400"/>
<path d="M654.3 245.5 L658 240.5 L699.3 240.5 L699.3 250.5 L658 250.5 Z" fill="#fff" stroke="#1c1c9c" stroke-width="1.3"/>
<text x="659.60" y="248.90" font-family='"Liberation Sans", Arial, sans-serif' font-size="10" font-weight="normal" fill="#000" stroke="#000" stroke-width="0.2" text-anchor="start" textLength="37.90" lengthAdjust="spacing" >2729.72</text>
<path d="M654.3 271.5 L658 266.5 L699.3 266.5 L699.3 276.5 L658 276.5 Z" fill="#fff" stroke="#2a7a2a" stroke-width="1.3"/>
<text x="659.60" y="274.90" font-family='"Liberation Sans", Arial, sans-serif' font-size="10" font-weight="normal" fill="#000" stroke="#000" stroke-width="0.2" text-anchor="start" textLength="37.90" lengthAdjust="spacing" >2693.35</text>
<path d="M654.3 348.5 L658 343.5 L699.3 343.5 L699.3 353.5 L658 353.5 Z" fill="#fff" stroke="#d0284e" stroke-width="1.3"/>
<text x="659.60" y="351.90" font-family='"Liberation Sans", Arial, sans-serif' font-size="10" font-weight="normal" fill="#000" stroke="#000" stroke-width="0.2" text-anchor="start" textLength="37.90" lengthAdjust="spacing" >2589.13</text>
<path d="M654.3 309.5 L658 304.5 L699.3 304.5 L699.3 314.5 L658 314.5 Z" fill="#fff" stroke="#000" stroke-width="1.3"/>
<text x="659.60" y="312.90" font-family='"Liberation Sans", Arial, sans-serif' font-size="10" font-weight="bold" fill="#000" stroke="#000" stroke-width="0.08" text-anchor="start" textLength="38.50" lengthAdjust="spacingAndGlyphs" >2640.87</text>
<line x1="21.5" y1="410.5" x2="21.5" y2="412.5" stroke="#c8c8c8"/>
<line x1="31.5" y1="410.5" x2="31.5" y2="412.5" stroke="#c8c8c8"/>
<line x1="41.5" y1="410.5" x2="41.5" y2="412.5" stroke="#c8c8c8"/>
<line x1="52.5" y1="410.5" x2="52.5" y2="412.5" stroke="#c8c8c8"/>
<line x1="62.5" y1="410.5" x2="62.5" y2="412.5" stroke="#c8c8c8"/>
<line x1="72.5" y1="410.5" x2="72.5" y2="412.5" stroke="#c8c8c8"/>
<line x1="83.5" y1="410.5" x2="83.5" y2="412.5" stroke="#c8c8c8"/>
<line x1="93.5" y1="410.5" x2="93.5" y2="412.5" stroke="#c8c8c8"/>
<line x1="103.5" y1="410.5" x2="103.5" y2="412.5" stroke="#c8c8c8"/>
<line x1="113.5" y1="410.5" x2="113.5" y2="412.5" stroke="#c8c8c8"/>
<line x1="124.5" y1="410.5" x2="124.5" y2="412.5" stroke="#c8c8c8"/>
<line x1="134.5" y1="410.5" x2="134.5" y2="412.5" stroke="#c8c8c8"/>
<line x1="144.5" y1="410.5" x2="144.5" y2="412.5" stroke="#c8c8c8"/>
<line x1="155.5" y1="410.5" x2="155.5" y2="412.5" stroke="#c8c8c8"/>
<line x1="165.5" y1="410.5" x2="165.5" y2="412.5" stroke="#c8c8c8"/>
<line x1="175.5" y1="410.5" x2="175.5" y2="412.5" stroke="#c8c8c8"/>
<line x1="185.5" y1="410.5" x2="185.5" y2="412.5" stroke="#c8c8c8"/>
<line x1="196.5" y1="410.5" x2="196.5" y2="412.5" stroke="#c8c8c8"/>
<line x1="206.5" y1="410.5" x2="206.5" y2="412.5" stroke="#c8c8c8"/>
<line x1="216.5" y1="410.5" x2="216.5" y2="412.5" stroke="#c8c8c8"/>
<line x1="227.5" y1="410.5" x2="227.5" y2="412.5" stroke="#c8c8c8"/>
<line x1="237.5" y1="410.5" x2="237.5" y2="412.5" stroke="#c8c8c8"/>
<line x1="247.5" y1="410.5" x2="247.5" y2="412.5" stroke="#c8c8c8"/>
<line x1="257.5" y1="410.5" x2="257.5" y2="412.5" stroke="#c8c8c8"/>
<line x1="268.5" y1="410.5" x2="268.5" y2="412.5" stroke="#c8c8c8"/>
<line x1="278.5" y1="410.5" x2="278.5" y2="412.5" stroke="#c8c8c8"/>
<line x1="288.5" y1="410.5" x2="288.5" y2="412.5" stroke="#c8c8c8"/>
<line x1="299.5" y1="410.5" x2="299.5" y2="412.5" stroke="#c8c8c8"/>
<line x1="309.5" y1="410.5" x2="309.5" y2="412.5" stroke="#c8c8c8"/>
<line x1="319.5" y1="410.5" x2="319.5" y2="412.5" stroke="#c8c8c8"/>
<line x1="329.5" y1="410.5" x2="329.5" y2="412.5" stroke="#c8c8c8"/>
<line x1="340.5" y1="410.5" x2="340.5" y2="412.5" stroke="#c8c8c8"/>
<line x1="350.5" y1="410.5" x2="350.5" y2="412.5" stroke="#c8c8c8"/>
<line x1="360.5" y1="410.5" x2="360.5" y2="412.5" stroke="#c8c8c8"/>
<line x1="371.5" y1="410.5" x2="371.5" y2="412.5" stroke="#c8c8c8"/>
<line x1="381.5" y1="410.5" x2="381.5" y2="412.5" stroke="#c8c8c8"/>
<line x1="391.5" y1="410.5" x2="391.5" y2="412.5" stroke="#c8c8c8"/>
<line x1="401.5" y1="410.5" x2="401.5" y2="412.5" stroke="#c8c8c8"/>
<line x1="412.5" y1="410.5" x2="412.5" y2="412.5" stroke="#c8c8c8"/>
<line x1="422.5" y1="410.5" x2="422.5" y2="412.5" stroke="#c8c8c8"/>
<line x1="432.5" y1="410.5" x2="432.5" y2="412.5" stroke="#c8c8c8"/>
<line x1="443.5" y1="410.5" x2="443.5" y2="412.5" stroke="#c8c8c8"/>
<line x1="453.5" y1="410.5" x2="453.5" y2="412.5" stroke="#c8c8c8"/>
<line x1="463.5" y1="410.5" x2="463.5" y2="412.5" stroke="#c8c8c8"/>
<line x1="473.5" y1="410.5" x2="473.5" y2="412.5" stroke="#c8c8c8"/>
<line x1="484.5" y1="410.5" x2="484.5" y2="412.5" stroke="#c8c8c8"/>
<line x1="494.5" y1="410.5" x2="494.5" y2="412.5" stroke="#c8c8c8"/>
<line x1="504.5" y1="410.5" x2="504.5" y2="412.5" stroke="#c8c8c8"/>
<line x1="514.5" y1="410.5" x2="514.5" y2="412.5" stroke="#c8c8c8"/>
<line x1="525.5" y1="410.5" x2="525.5" y2="412.5" stroke="#c8c8c8"/>
<line x1="535.5" y1="410.5" x2="535.5" y2="412.5" stroke="#c8c8c8"/>
<line x1="545.5" y1="410.5" x2="545.5" y2="412.5" stroke="#c8c8c8"/>
<line x1="556.5" y1="410.5" x2="556.5" y2="412.5" stroke="#c8c8c8"/>
<line x1="566.5" y1="410.5" x2="566.5" y2="412.5" stroke="#c8c8c8"/>
<line x1="576.5" y1="410.5" x2="576.5" y2="412.5" stroke="#c8c8c8"/>
<line x1="586.5" y1="410.5" x2="586.5" y2="412.5" stroke="#c8c8c8"/>
<line x1="597.5" y1="410.5" x2="597.5" y2="412.5" stroke="#c8c8c8"/>
<line x1="607.5" y1="410.5" x2="607.5" y2="412.5" stroke="#c8c8c8"/>
<line x1="617.5" y1="410.5" x2="617.5" y2="412.5" stroke="#c8c8c8"/>
<line x1="628.5" y1="410.5" x2="628.5" y2="412.5" stroke="#c8c8c8"/>
<line x1="638.5" y1="410.5" x2="638.5" y2="412.5" stroke="#c8c8c8"/>
<line x1="648.5" y1="410.5" x2="648.5" y2="412.5" stroke="#c8c8c8"/>
<text x="30.40" y="420.80" font-family='"DejaVu Sans", Verdana, sans-serif' font-size="10" font-weight="bold" fill="#000" stroke="#000" stroke-width="0.08" text-anchor="middle" textLength="24.20" lengthAdjust="spacingAndGlyphs" >2018</text>
<text x="72.50" y="420.80" font-family='"Liberation Sans", Arial, sans-serif' font-size="10" font-weight="normal" fill="#000" stroke="#000" stroke-width="0.2" text-anchor="middle" textLength="5.30" lengthAdjust="spacing" >8</text>
<text x="123.50" y="420.80" font-family='"Liberation Sans", Arial, sans-serif' font-size="10" font-weight="normal" fill="#000" stroke="#000" stroke-width="0.2" text-anchor="middle" textLength="11.20" lengthAdjust="spacing" >16</text>
<text x="164.50" y="420.80" font-family='"Liberation Sans", Arial, sans-serif' font-size="10" font-weight="normal" fill="#000" stroke="#000" stroke-width="0.2" text-anchor="middle" textLength="11.20" lengthAdjust="spacing" >22</text>
<text x="215.50" y="420.80" font-family='"Liberation Sans", Arial, sans-serif' font-size="10" font-weight="normal" fill="#000" stroke="#000" stroke-width="0.2" text-anchor="middle" textLength="11.20" lengthAdjust="spacing" >29</text>
<text x="246.40" y="420.80" font-family='"DejaVu Sans", Verdana, sans-serif' font-size="10" font-weight="bold" fill="#000" stroke="#000" stroke-width="0.08" text-anchor="middle" textLength="20.20" lengthAdjust="spacingAndGlyphs" >Feb</text>
<text x="268.50" y="420.80" font-family='"Liberation Sans", Arial, sans-serif' font-size="10" font-weight="normal" fill="#000" stroke="#000" stroke-width="0.2" text-anchor="middle" textLength="5.30" lengthAdjust="spacing" >5</text>
<text x="318.50" y="420.80" font-family='"Liberation Sans", Arial, sans-serif' font-size="10" font-weight="normal" fill="#000" stroke="#000" stroke-width="0.2" text-anchor="middle" textLength="11.20" lengthAdjust="spacing" >12</text>
<text x="370.50" y="420.80" font-family='"Liberation Sans", Arial, sans-serif' font-size="10" font-weight="normal" fill="#000" stroke="#000" stroke-width="0.2" text-anchor="middle" textLength="11.20" lengthAdjust="spacing" >20</text>
<text x="411.50" y="420.80" font-family='"Liberation Sans", Arial, sans-serif' font-size="10" font-weight="normal" fill="#000" stroke="#000" stroke-width="0.2" text-anchor="middle" textLength="11.20" lengthAdjust="spacing" >26</text>
<text x="442.40" y="420.80" font-family='"DejaVu Sans", Verdana, sans-serif' font-size="10" font-weight="bold" fill="#000" stroke="#000" stroke-width="0.08" text-anchor="middle" textLength="21.00" lengthAdjust="spacingAndGlyphs" >Mar</text>
<text x="463.50" y="420.80" font-family='"Liberation Sans", Arial, sans-serif' font-size="10" font-weight="normal" fill="#000" stroke="#000" stroke-width="0.2" text-anchor="middle" textLength="5.30" lengthAdjust="spacing" >5</text>
<text x="513.50" y="420.80" font-family='"Liberation Sans", Arial, sans-serif' font-size="10" font-weight="normal" fill="#000" stroke="#000" stroke-width="0.2" text-anchor="middle" textLength="11.20" lengthAdjust="spacing" >12</text>
<text x="565.50" y="420.80" font-family='"Liberation Sans", Arial, sans-serif' font-size="10" font-weight="normal" fill="#000" stroke="#000" stroke-width="0.2" text-anchor="middle" textLength="11.20" lengthAdjust="spacing" >19</text>
<text x="616.50" y="420.80" font-family='"Liberation Sans", Arial, sans-serif' font-size="10" font-weight="normal" fill="#000" stroke="#000" stroke-width="0.2" text-anchor="middle" textLength="11.20" lengthAdjust="spacing" >26</text>
<line x1="16.5" y1="501.5" x2="656.5" y2="501.5" stroke="#000" stroke-opacity="0.095" stroke-width="1"/>
<line x1="16.5" y1="478.5" x2="656.5" y2="478.5" stroke="#000" stroke-opacity="0.095" stroke-width="1"/>
<line x1="16.5" y1="456.5" x2="656.5" y2="456.5" stroke="#000" stroke-opacity="0.095" stroke-width="1"/>
<line x1="16.5" y1="433.5" x2="656.5" y2="433.5" stroke="#000" stroke-opacity="0.095" stroke-width="1"/>
<line x1="31.5" y1="424.5" x2="31.5" y2="523.5" stroke="#000" stroke-opacity="0.24" stroke-width="1"/>
<line x1="72.5" y1="424.5" x2="72.5" y2="523.5" stroke="#000" stroke-opacity="0.115" stroke-width="1"/>
<line x1="124.5" y1="424.5" x2="124.5" y2="523.5" stroke="#000" stroke-opacity="0.115" stroke-width="1"/>
<line x1="165.5" y1="424.5" x2="165.5" y2="523.5" stroke="#000" stroke-opacity="0.115" stroke-width="1"/>
<line x1="216.5" y1="424.5" x2="216.5" y2="523.5" stroke="#000" stroke-opacity="0.115" stroke-width="1"/>
<line x1="247.5" y1="424.5" x2="247.5" y2="523.5" stroke="#000" stroke-opacity="0.24" stroke-width="1"/>
<line x1="268.5" y1="424.5" x2="268.5" y2="523.5" stroke="#000" stroke-opacity="0.115" stroke-width="1"/>
<line x1="319.5" y1="424.5" x2="319.5" y2="523.5" stroke="#000" stroke-opacity="0.115" stroke-width="1"/>
<line x1="371.5" y1="424.5" x2="371.5" y2="523.5" stroke="#000" stroke-opacity="0.115" stroke-width="1"/>
<line x1="412.5" y1="424.5" x2="412.5" y2="523.5" stroke="#000" stroke-opacity="0.115" stroke-width="1"/>
<line x1="443.5" y1="424.5" x2="443.5" y2="523.5" stroke="#000" stroke-opacity="0.24" stroke-width="1"/>
<line x1="463.5" y1="424.5" x2="463.5" y2="523.5" stroke="#000" stroke-opacity="0.115" stroke-width="1"/>
<line x1="514.5" y1="424.5" x2="514.5" y2="523.5" stroke="#000" stroke-opacity="0.115" stroke-width="1"/>
<line x1="566.5" y1="424.5" x2="566.5" y2="523.5" stroke="#000" stroke-opacity="0.115" stroke-width="1"/>
<line x1="617.5" y1="424.5" x2="617.5" y2="523.5" stroke="#000" stroke-opacity="0.115" stroke-width="1"/>
<g clip-path="url(#cvol)">
<rect x="17.5" y="492.5" width="7" height="33.0" fill="#cc0033" fill-opacity="0.7" stroke="#cc0033" stroke-width="1"/>
<rect x="27.5" y="479.5" width="7" height="46.0" fill="#006400" fill-opacity="0.7" stroke="#006400" stroke-width="1"/>
<rect x="38.5" y="472.5" width="6" height="53.0" fill="#006400" fill-opacity="0.7" stroke="#006400" stroke-width="1"/>
<rect x="48.5" y="473.5" width="7" height="52.0" fill="#006400" fill-opacity="0.7" stroke="#006400" stroke-width="1"/>
<rect x="58.5" y="477.5" width="7" height="48.0" fill="#006400" fill-opacity="0.7" stroke="#006400" stroke-width="1"/>
<rect x="69.5" y="478.5" width="6" height="47.0" fill="#006400" fill-opacity="0.7" stroke="#006400" stroke-width="1"/>
<rect x="79.5" y="477.5" width="7" height="48.0" fill="#006400" fill-opacity="0.7" stroke="#006400" stroke-width="1"/>
<rect x="89.5" y="475.5" width="7" height="50.0" fill="#006400" fill-opacity="0.7" stroke="#006400" stroke-width="1"/>
<rect x="99.5" y="478.5" width="7" height="47.0" fill="#006400" fill-opacity="0.7" stroke="#006400" stroke-width="1"/>
<rect x="110.5" y="475.5" width="6" height="50.0" fill="#006400" fill-opacity="0.7" stroke="#006400" stroke-width="1"/>
<rect x="120.5" y="464.5" width="7" height="61.0" fill="#cc0033" fill-opacity="0.7" stroke="#cc0033" stroke-width="1"/>
<rect x="130.5" y="468.5" width="7" height="57.0" fill="#006400" fill-opacity="0.7" stroke="#006400" stroke-width="1"/>
<rect x="141.5" y="470.5" width="6" height="55.0" fill="#cc0033" fill-opacity="0.7" stroke="#cc0033" stroke-width="1"/>
<rect x="151.5" y="467.5" width="7" height="58.0" fill="#006400" fill-opacity="0.7" stroke="#006400" stroke-width="1"/>
<rect x="161.5" y="474.5" width="7" height="51.0" fill="#006400" fill-opacity="0.7" stroke="#006400" stroke-width="1"/>
<rect x="171.5" y="473.5" width="7" height="52.0" fill="#006400" fill-opacity="0.7" stroke="#006400" stroke-width="1"/>
<rect x="182.5" y="467.5" width="6" height="58.0" fill="#cc0033" fill-opacity="0.7" stroke="#cc0033" stroke-width="1"/>
<rect x="192.5" y="470.5" width="7" height="55.0" fill="#cc0033" fill-opacity="0.7" stroke="#cc0033" stroke-width="1"/>
<rect x="202.5" y="472.5" width="7" height="53.0" fill="#006400" fill-opacity="0.7" stroke="#006400" stroke-width="1"/>
<rect x="213.5" y="474.5" width="6" height="51.0" fill="#cc0033" fill-opacity="0.7" stroke="#cc0033" stroke-width="1"/>
<rect x="223.5" y="468.5" width="7" height="57.0" fill="#cc0033" fill-opacity="0.7" stroke="#cc0033" stroke-width="1"/>
<rect x="233.5" y="459.5" width="7" height="66.0" fill="#cc0033" fill-opacity="0.7" stroke="#cc0033" stroke-width="1"/>
<rect x="243.5" y="467.5" width="7" height="58.0" fill="#006400" fill-opacity="0.7" stroke="#006400" stroke-width="1"/>
<rect x="254.5" y="461.5" width="6" height="64.0" fill="#cc0033" fill-opacity="0.7" stroke="#cc0033" stroke-width="1"/>
<rect x="264.5" y="442.5" width="7" height="83.0" fill="#cc0033" fill-opacity="0.7" stroke="#cc0033" stroke-width="1"/>
<rect x="274.5" y="431.5" width="7" height="94.0" fill="#006400" fill-opacity="0.7" stroke="#006400" stroke-width="1"/>
<rect x="284.5" y="458.5" width="7" height="67.0" fill="#cc0033" fill-opacity="0.7" stroke="#cc0033" stroke-width="1"/>
<rect x="295.5" y="449.5" width="7" height="76.0" fill="#cc0033" fill-opacity="0.7" stroke="#cc0033" stroke-width="1"/>
<rect x="305.5" y="439.5" width="7" height="86.0" fill="#006400" fill-opacity="0.7" stroke="#006400" stroke-width="1"/>
<rect x="315.5" y="462.5" width="7" height="63.0" fill="#006400" fill-opacity="0.7" stroke="#006400" stroke-width="1"/>
<rect x="326.5" y="475.5" width="6" height="50.0" fill="#006400" fill-opacity="0.7" stroke="#006400" stroke-width="1"/>
<rect x="336.5" y="468.5" width="7" height="57.0" fill="#006400" fill-opacity="0.7" stroke="#006400" stroke-width="1"/>
<rect x="346.5" y="471.5" width="7" height="54.0" fill="#006400" fill-opacity="0.7" stroke="#006400" stroke-width="1"/>
<rect x="356.5" y="473.5" width="7" height="52.0" fill="#006400" fill-opacity="0.7" stroke="#006400" stroke-width="1"/>
<rect x="367.5" y="474.5" width="7" height="51.0" fill="#cc0033" fill-opacity="0.7" stroke="#cc0033" stroke-width="1"/>
<rect x="377.5" y="472.5" width="7" height="53.0" fill="#cc0033" fill-opacity="0.7" stroke="#cc0033" stroke-width="1"/>
<rect x="387.5" y="475.5" width="7" height="50.0" fill="#cc0033" fill-opacity="0.7" stroke="#cc0033" stroke-width="1"/>
<rect x="398.5" y="480.5" width="6" height="45.0" fill="#006400" fill-opacity="0.7" stroke="#006400" stroke-width="1"/>
<rect x="408.5" y="475.5" width="7" height="50.0" fill="#006400" fill-opacity="0.7" stroke="#006400" stroke-width="1"/>
<rect x="418.5" y="470.5" width="7" height="55.0" fill="#cc0033" fill-opacity="0.7" stroke="#cc0033" stroke-width="1"/>
<rect x="428.5" y="464.5" width="7" height="61.0" fill="#cc0033" fill-opacity="0.7" stroke="#cc0033" stroke-width="1"/>
<rect x="439.5" y="459.5" width="7" height="66.0" fill="#cc0033" fill-opacity="0.7" stroke="#cc0033" stroke-width="1"/>
<rect x="449.5" y="468.5" width="7" height="57.0" fill="#006400" fill-opacity="0.7" stroke="#006400" stroke-width="1"/>
<rect x="459.5" y="469.5" width="7" height="56.0" fill="#006400" fill-opacity="0.7" stroke="#006400" stroke-width="1"/>
<rect x="470.5" y="476.5" width="6" height="49.0" fill="#cc0033" fill-opacity="0.7" stroke="#cc0033" stroke-width="1"/>
<rect x="480.5" y="473.5" width="7" height="52.0" fill="#006400" fill-opacity="0.7" stroke="#006400" stroke-width="1"/>
<rect x="490.5" y="476.5" width="7" height="49.0" fill="#006400" fill-opacity="0.7" stroke="#006400" stroke-width="1"/>
<rect x="500.5" y="473.5" width="7" height="52.0" fill="#006400" fill-opacity="0.7" stroke="#006400" stroke-width="1"/>
<rect x="511.5" y="474.5" width="6" height="51.0" fill="#cc0033" fill-opacity="0.7" stroke="#cc0033" stroke-width="1"/>
<rect x="521.5" y="469.5" width="7" height="56.0" fill="#cc0033" fill-opacity="0.7" stroke="#cc0033" stroke-width="1"/>
<rect x="531.5" y="473.5" width="7" height="52.0" fill="#cc0033" fill-opacity="0.7" stroke="#cc0033" stroke-width="1"/>
<rect x="542.5" y="477.5" width="6" height="48.0" fill="#cc0033" fill-opacity="0.7" stroke="#cc0033" stroke-width="1"/>
<rect x="552.5" y="443.5" width="7" height="82.0" fill="#006400" fill-opacity="0.7" stroke="#006400" stroke-width="1"/>
<rect x="562.5" y="472.5" width="7" height="53.0" fill="#cc0033" fill-opacity="0.7" stroke="#cc0033" stroke-width="1"/>
<rect x="572.5" y="475.5" width="7" height="50.0" fill="#006400" fill-opacity="0.7" stroke="#006400" stroke-width="1"/>
<rect x="583.5" y="475.5" width="6" height="50.0" fill="#cc0033" fill-opacity="0.7" stroke="#cc0033" stroke-width="1"/>
<rect x="593.5" y="466.5" width="7" height="59.0" fill="#cc0033" fill-opacity="0.7" stroke="#cc0033" stroke-width="1"/>
<rect x="603.5" y="464.5" width="7" height="61.0" fill="#cc0033" fill-opacity="0.7" stroke="#cc0033" stroke-width="1"/>
<rect x="614.5" y="467.5" width="6" height="58.0" fill="#006400" fill-opacity="0.7" stroke="#006400" stroke-width="1"/>
<rect x="624.5" y="464.5" width="7" height="61.0" fill="#cc0033" fill-opacity="0.7" stroke="#cc0033" stroke-width="1"/>
<rect x="634.5" y="464.5" width="7" height="61.0" fill="#cc0033" fill-opacity="0.7" stroke="#cc0033" stroke-width="1"/>
<rect x="644.5" y="469.5" width="7" height="56.0" fill="#006400" fill-opacity="0.7" stroke="#006400" stroke-width="1"/>
</g>
<rect x="17.5" y="425.5" width="143" height="11" fill="#fff"/>
<g fill="#006400"><rect x="19" y="430" width="3" height="4.8"/><rect x="22" y="426.1" width="3" height="8.7"/><rect x="25" y="428.1" width="3" height="6.7"/></g><g fill="#5a9c5a"><rect x="20" y="431" width="1" height="3.8"/><rect x="23" y="427.1" width="1" height="7.7"/><rect x="26" y="429.1" width="1" height="5.7"/></g>
<text x="31.50" y="434.80" font-family='"DejaVu Sans", Verdana, sans-serif' font-size="10" font-weight="normal" fill="#000" stroke="#000" stroke-width="0.2" text-anchor="start" textLength="126.80" lengthAdjust="spacing" >Volume 2,363,668,480</text>
<rect x="16.5" y="424.5" width="640.0" height="99.0" fill="none" stroke="#b4b4b4" stroke-width="1"/>
<line x1="21.5" y1="422.5" x2="21.5" y2="424.5" stroke="#c8c8c8"/>
<line x1="31.5" y1="422.5" x2="31.5" y2="424.5" stroke="#c8c8c8"/>
<line x1="41.5" y1="422.5" x2="41.5" y2="424.5" stroke="#c8c8c8"/>
<line x1="52.5" y1="422.5" x2="52.5" y2="424.5" stroke="#c8c8c8"/>
<line x1="62.5" y1="422.5" x2="62.5" y2="424.5" stroke="#c8c8c8"/>
<line x1="72.5" y1="422.5" x2="72.5" y2="424.5" stroke="#c8c8c8"/>
<line x1="83.5" y1="422.5" x2="83.5" y2="424.5" stroke="#c8c8c8"/>
<line x1="93.5" y1="422.5" x2="93.5" y2="424.5" stroke="#c8c8c8"/>
<line x1="103.5" y1="422.5" x2="103.5" y2="424.5" stroke="#c8c8c8"/>
<line x1="113.5" y1="422.5" x2="113.5" y2="424.5" stroke="#c8c8c8"/>
<line x1="124.5" y1="422.5" x2="124.5" y2="424.5" stroke="#c8c8c8"/>
<line x1="134.5" y1="422.5" x2="134.5" y2="424.5" stroke="#c8c8c8"/>
<line x1="144.5" y1="422.5" x2="144.5" y2="424.5" stroke="#c8c8c8"/>
<line x1="155.5" y1="422.5" x2="155.5" y2="424.5" stroke="#c8c8c8"/>
<line x1="165.5" y1="422.5" x2="165.5" y2="424.5" stroke="#c8c8c8"/>
<line x1="175.5" y1="422.5" x2="175.5" y2="424.5" stroke="#c8c8c8"/>
<line x1="185.5" y1="422.5" x2="185.5" y2="424.5" stroke="#c8c8c8"/>
<line x1="196.5" y1="422.5" x2="196.5" y2="424.5" stroke="#c8c8c8"/>
<line x1="206.5" y1="422.5" x2="206.5" y2="424.5" stroke="#c8c8c8"/>
<line x1="216.5" y1="422.5" x2="216.5" y2="424.5" stroke="#c8c8c8"/>
<line x1="227.5" y1="422.5" x2="227.5" y2="424.5" stroke="#c8c8c8"/>
<line x1="237.5" y1="422.5" x2="237.5" y2="424.5" stroke="#c8c8c8"/>
<line x1="247.5" y1="422.5" x2="247.5" y2="424.5" stroke="#c8c8c8"/>
<line x1="257.5" y1="422.5" x2="257.5" y2="424.5" stroke="#c8c8c8"/>
<line x1="268.5" y1="422.5" x2="268.5" y2="424.5" stroke="#c8c8c8"/>
<line x1="278.5" y1="422.5" x2="278.5" y2="424.5" stroke="#c8c8c8"/>
<line x1="288.5" y1="422.5" x2="288.5" y2="424.5" stroke="#c8c8c8"/>
<line x1="299.5" y1="422.5" x2="299.5" y2="424.5" stroke="#c8c8c8"/>
<line x1="309.5" y1="422.5" x2="309.5" y2="424.5" stroke="#c8c8c8"/>
<line x1="319.5" y1="422.5" x2="319.5" y2="424.5" stroke="#c8c8c8"/>
<line x1="329.5" y1="422.5" x2="329.5" y2="424.5" stroke="#c8c8c8"/>
<line x1="340.5" y1="422.5" x2="340.5" y2="424.5" stroke="#c8c8c8"/>
<line x1="350.5" y1="422.5" x2="350.5" y2="424.5" stroke="#c8c8c8"/>
<line x1="360.5" y1="422.5" x2="360.5" y2="424.5" stroke="#c8c8c8"/>
<line x1="371.5" y1="422.5" x2="371.5" y2="424.5" stroke="#c8c8c8"/>
<line x1="381.5" y1="422.5" x2="381.5" y2="424.5" stroke="#c8c8c8"/>
<line x1="391.5" y1="422.5" x2="391.5" y2="424.5" stroke="#c8c8c8"/>
<line x1="401.5" y1="422.5" x2="401.5" y2="424.5" stroke="#c8c8c8"/>
<line x1="412.5" y1="422.5" x2="412.5" y2="424.5" stroke="#c8c8c8"/>
<line x1="422.5" y1="422.5" x2="422.5" y2="424.5" stroke="#c8c8c8"/>
<line x1="432.5" y1="422.5" x2="432.5" y2="424.5" stroke="#c8c8c8"/>
<line x1="443.5" y1="422.5" x2="443.5" y2="424.5" stroke="#c8c8c8"/>
<line x1="453.5" y1="422.5" x2="453.5" y2="424.5" stroke="#c8c8c8"/>
<line x1="463.5" y1="422.5" x2="463.5" y2="424.5" stroke="#c8c8c8"/>
<line x1="473.5" y1="422.5" x2="473.5" y2="424.5" stroke="#c8c8c8"/>
<line x1="484.5" y1="422.5" x2="484.5" y2="424.5" stroke="#c8c8c8"/>
<line x1="494.5" y1="422.5" x2="494.5" y2="424.5" stroke="#c8c8c8"/>
<line x1="504.5" y1="422.5" x2="504.5" y2="424.5" stroke="#c8c8c8"/>
<line x1="514.5" y1="422.5" x2="514.5" y2="424.5" stroke="#c8c8c8"/>
<line x1="525.5" y1="422.5" x2="525.5" y2="424.5" stroke="#c8c8c8"/>
<line x1="535.5" y1="422.5" x2="535.5" y2="424.5" stroke="#c8c8c8"/>
<line x1="545.5" y1="422.5" x2="545.5" y2="424.5" stroke="#c8c8c8"/>
<line x1="556.5" y1="422.5" x2="556.5" y2="424.5" stroke="#c8c8c8"/>
<line x1="566.5" y1="422.5" x2="566.5" y2="424.5" stroke="#c8c8c8"/>
<line x1="576.5" y1="422.5" x2="576.5" y2="424.5" stroke="#c8c8c8"/>
<line x1="586.5" y1="422.5" x2="586.5" y2="424.5" stroke="#c8c8c8"/>
<line x1="597.5" y1="422.5" x2="597.5" y2="424.5" stroke="#c8c8c8"/>
<line x1="607.5" y1="422.5" x2="607.5" y2="424.5" stroke="#c8c8c8"/>
<line x1="617.5" y1="422.5" x2="617.5" y2="424.5" stroke="#c8c8c8"/>
<line x1="628.5" y1="422.5" x2="628.5" y2="424.5" stroke="#c8c8c8"/>
<line x1="638.5" y1="422.5" x2="638.5" y2="424.5" stroke="#c8c8c8"/>
<line x1="648.5" y1="422.5" x2="648.5" y2="424.5" stroke="#c8c8c8"/>
<line x1="656.5" y1="512.5" x2="658.5" y2="512.5" stroke="#c8c8c8" stroke-width="1"/>
<line x1="656.5" y1="501.5" x2="659.5" y2="501.5" stroke="#c8c8c8" stroke-width="1"/>
<line x1="656.5" y1="489.5" x2="658.5" y2="489.5" stroke="#c8c8c8" stroke-width="1"/>
<line x1="656.5" y1="478.5" x2="659.5" y2="478.5" stroke="#c8c8c8" stroke-width="1"/>
<line x1="656.5" y1="467.5" x2="658.5" y2="467.5" stroke="#c8c8c8" stroke-width="1"/>
<line x1="656.5" y1="456.5" x2="659.5" y2="456.5" stroke="#c8c8c8" stroke-width="1"/>
<line x1="656.5" y1="444.5" x2="658.5" y2="444.5" stroke="#c8c8c8" stroke-width="1"/>
<line x1="656.5" y1="433.5" x2="659.5" y2="433.5" stroke="#c8c8c8" stroke-width="1"/>
<text x="659.80" y="504.20" font-family='"Liberation Sans", Arial, sans-serif' font-size="9.8" font-weight="normal" fill="#000" stroke="#000" stroke-width="0.2" text-anchor="start" textLength="12.30" lengthAdjust="spacing" >1B</text>
<text x="659.80" y="481.20" font-family='"Liberation Sans", Arial, sans-serif' font-size="9.8" font-weight="normal" fill="#000" stroke="#000" stroke-width="0.2" text-anchor="start" textLength="12.30" lengthAdjust="spacing" >2B</text>
<text x="659.80" y="459.20" font-family='"Liberation Sans", Arial, sans-serif' font-size="9.8" font-weight="normal" fill="#000" stroke="#000" stroke-width="0.2" text-anchor="start" textLength="12.30" lengthAdjust="spacing" >3B</text>
<text x="659.80" y="436.20" font-family='"Liberation Sans", Arial, sans-serif' font-size="9.8" font-weight="normal" fill="#000" stroke="#000" stroke-width="0.2" text-anchor="start" textLength="12.30" lengthAdjust="spacing" >4B</text>
<path d="M654.6 468.6 L658.3 463.6 L704 463.6 L704 473.6 L658.3 473.6 Z" fill="#fff" stroke="#000" stroke-width="1.3"/>
<text x="659.60" y="472.00" font-family='"Liberation Sans", Arial, sans-serif' font-size="10" font-weight="normal" fill="#000" stroke="#000" stroke-width="0.2" text-anchor="start" textLength="40.50" lengthAdjust="spacing" >2363668</text>
<line x1="16.5" y1="539.5" x2="656.5" y2="539.5" stroke="#000" stroke-opacity="0.095" stroke-width="1"/>
<line x1="16.5" y1="560.5" x2="656.5" y2="560.5" stroke="#000" stroke-opacity="0.095" stroke-width="1"/>
<line x1="16.5" y1="582.5" x2="656.5" y2="582.5" stroke="#000" stroke-opacity="0.095" stroke-width="1"/>
<line x1="16.5" y1="604.5" x2="656.5" y2="604.5" stroke="#000" stroke-opacity="0.095" stroke-width="1"/>
<line x1="31.5" y1="523.5" x2="31.5" y2="622.5" stroke="#000" stroke-opacity="0.24" stroke-width="1"/>
<line x1="72.5" y1="523.5" x2="72.5" y2="622.5" stroke="#000" stroke-opacity="0.115" stroke-width="1"/>
<line x1="124.5" y1="523.5" x2="124.5" y2="622.5" stroke="#000" stroke-opacity="0.115" stroke-width="1"/>
<line x1="165.5" y1="523.5" x2="165.5" y2="622.5" stroke="#000" stroke-opacity="0.115" stroke-width="1"/>
<line x1="216.5" y1="523.5" x2="216.5" y2="622.5" stroke="#000" stroke-opacity="0.115" stroke-width="1"/>
<line x1="247.5" y1="523.5" x2="247.5" y2="622.5" stroke="#000" stroke-opacity="0.24" stroke-width="1"/>
<line x1="268.5" y1="523.5" x2="268.5" y2="622.5" stroke="#000" stroke-opacity="0.115" stroke-width="1"/>
<line x1="319.5" y1="523.5" x2="319.5" y2="622.5" stroke="#000" stroke-opacity="0.115" stroke-width="1"/>
<line x1="371.5" y1="523.5" x2="371.5" y2="622.5" stroke="#000" stroke-opacity="0.115" stroke-width="1"/>
<line x1="412.5" y1="523.5" x2="412.5" y2="622.5" stroke="#000" stroke-opacity="0.115" stroke-width="1"/>
<line x1="443.5" y1="523.5" x2="443.5" y2="622.5" stroke="#000" stroke-opacity="0.24" stroke-width="1"/>
<line x1="463.5" y1="523.5" x2="463.5" y2="622.5" stroke="#000" stroke-opacity="0.115" stroke-width="1"/>
<line x1="514.5" y1="523.5" x2="514.5" y2="622.5" stroke="#000" stroke-opacity="0.115" stroke-width="1"/>
<line x1="566.5" y1="523.5" x2="566.5" y2="622.5" stroke="#000" stroke-opacity="0.115" stroke-width="1"/>
<line x1="617.5" y1="523.5" x2="617.5" y2="622.5" stroke="#000" stroke-opacity="0.115" stroke-width="1"/>
<g clip-path="url(#cmacd)">
<rect x="17.5" y="582.5" width="7" height="1" fill="#55a5cf" stroke="#22709c" stroke-width="1"/>
<rect x="27.5" y="582.5" width="7" height="1" fill="#55a5cf" stroke="#22709c" stroke-width="1"/>
<line x1="38" y1="582.5" x2="45" y2="582.5" stroke="#2d7ba6" stroke-width="1"/>
<rect x="48.5" y="581.5" width="7" height="1" fill="#55a5cf" stroke="#22709c" stroke-width="1"/>
<rect x="58.5" y="579.5" width="7" height="3" fill="#55a5cf" stroke="#22709c" stroke-width="1"/>
<rect x="69.5" y="578.5" width="6" height="4" fill="#55a5cf" stroke="#22709c" stroke-width="1"/>
<rect x="79.5" y="577.5" width="7" height="5" fill="#55a5cf" stroke="#22709c" stroke-width="1"/>
<rect x="89.5" y="578.5" width="7" height="4" fill="#55a5cf" stroke="#22709c" stroke-width="1"/>
<rect x="99.5" y="577.5" width="7" height="5" fill="#55a5cf" stroke="#22709c" stroke-width="1"/>
<rect x="110.5" y="576.5" width="6" height="6" fill="#55a5cf" stroke="#22709c" stroke-width="1"/>
<rect x="120.5" y="577.5" width="7" height="5" fill="#55a5cf" stroke="#22709c" stroke-width="1"/>
<rect x="130.5" y="576.5" width="7" height="6" fill="#55a5cf" stroke="#22709c" stroke-width="1"/>
<rect x="141.5" y="576.5" width="6" height="6" fill="#55a5cf" stroke="#22709c" stroke-width="1"/>
<rect x="151.5" y="576.5" width="7" height="6" fill="#55a5cf" stroke="#22709c" stroke-width="1"/>
<rect x="161.5" y="576.5" width="7" height="6" fill="#55a5cf" stroke="#22709c" stroke-width="1"/>
<rect x="171.5" y="575.5" width="7" height="7" fill="#55a5cf" stroke="#22709c" stroke-width="1"/>
<rect x="182.5" y="576.5" width="6" height="6" fill="#55a5cf" stroke="#22709c" stroke-width="1"/>
<rect x="192.5" y="577.5" width="7" height="5" fill="#55a5cf" stroke="#22709c" stroke-width="1"/>
<rect x="202.5" y="576.5" width="7" height="6" fill="#55a5cf" stroke="#22709c" stroke-width="1"/>
<rect x="213.5" y="578.5" width="6" height="4" fill="#55a5cf" stroke="#22709c" stroke-width="1"/>
<rect x="223.5" y="581.5" width="7" height="1" fill="#55a5cf" stroke="#22709c" stroke-width="1"/>
<rect x="233.5" y="582.5" width="7" height="1" fill="#55a5cf" stroke="#22709c" stroke-width="1"/>
<rect x="243.5" y="582.5" width="7" height="3" fill="#55a5cf" stroke="#22709c" stroke-width="1"/>
<rect x="254.5" y="582.5" width="6" height="9" fill="#55a5cf" stroke="#22709c" stroke-width="1"/>
<rect x="264.5" y="582.5" width="7" height="20" fill="#55a5cf" stroke="#22709c" stroke-width="1"/>
<rect x="274.5" y="582.5" width="7" height="23" fill="#55a5cf" stroke="#22709c" stroke-width="1"/>
<rect x="284.5" y="582.5" width="7" height="25" fill="#55a5cf" stroke="#22709c" stroke-width="1"/>
<rect x="295.5" y="582.5" width="7" height="32" fill="#55a5cf" stroke="#22709c" stroke-width="1"/>
<rect x="305.5" y="582.5" width="7" height="33" fill="#55a5cf" stroke="#22709c" stroke-width="1"/>
<rect x="315.5" y="582.5" width="7" height="29" fill="#55a5cf" stroke="#22709c" stroke-width="1"/>
<rect x="326.5" y="582.5" width="6" height="24" fill="#55a5cf" stroke="#22709c" stroke-width="1"/>
<rect x="336.5" y="582.5" width="7" height="17" fill="#55a5cf" stroke="#22709c" stroke-width="1"/>
<rect x="346.5" y="582.5" width="7" height="10" fill="#55a5cf" stroke="#22709c" stroke-width="1"/>
<rect x="356.5" y="582.5" width="7" height="5" fill="#55a5cf" stroke="#22709c" stroke-width="1"/>
<rect x="367.5" y="582.5" width="7" height="2" fill="#55a5cf" stroke="#22709c" stroke-width="1"/>
<rect x="377.5" y="582.5" width="7" height="1" fill="#55a5cf" stroke="#22709c" stroke-width="1"/>
<line x1="387" y1="582.5" x2="395" y2="582.5" stroke="#2d7ba6" stroke-width="1"/>
<rect x="398.5" y="579.5" width="6" height="3" fill="#55a5cf" stroke="#22709c" stroke-width="1"/>
<rect x="408.5" y="575.5" width="7" height="7" fill="#55a5cf" stroke="#22709c" stroke-width="1"/>
<rect x="418.5" y="575.5" width="7" height="7" fill="#55a5cf" stroke="#22709c" stroke-width="1"/>
<rect x="428.5" y="577.5" width="7" height="5" fill="#55a5cf" stroke="#22709c" stroke-width="1"/>
<rect x="439.5" y="581.5" width="7" height="1" fill="#55a5cf" stroke="#22709c" stroke-width="1"/>
<line x1="449" y1="582.5" x2="457" y2="582.5" stroke="#2d7ba6" stroke-width="1"/>
<line x1="459" y1="582.5" x2="467" y2="582.5" stroke="#2d7ba6" stroke-width="1"/>
<rect x="470.5" y="581.5" width="6" height="1" fill="#55a5cf" stroke="#22709c" stroke-width="1"/>
<rect x="480.5" y="580.5" width="7" height="2" fill="#55a5cf" stroke="#22709c" stroke-width="1"/>
<rect x="490.5" y="579.5" width="7" height="3" fill="#55a5cf" stroke="#22709c" stroke-width="1"/>
<rect x="500.5" y="575.5" width="7" height="7" fill="#55a5cf" stroke="#22709c" stroke-width="1"/>
<rect x="511.5" y="573.5" width="6" height="9" fill="#55a5cf" stroke="#22709c" stroke-width="1"/>
<rect x="521.5" y="574.5" width="7" height="8" fill="#55a5cf" stroke="#22709c" stroke-width="1"/>
<rect x="531.5" y="576.5" width="7" height="6" fill="#55a5cf" stroke="#22709c" stroke-width="1"/>
<rect x="542.5" y="577.5" width="6" height="5" fill="#55a5cf" stroke="#22709c" stroke-width="1"/>
<rect x="552.5" y="578.5" width="7" height="4" fill="#55a5cf" stroke="#22709c" stroke-width="1"/>
<line x1="562" y1="582.5" x2="570" y2="582.5" stroke="#2d7ba6" stroke-width="1"/>
<rect x="572.5" y="582.5" width="7" height="1" fill="#55a5cf" stroke="#22709c" stroke-width="1"/>
<rect x="583.5" y="582.5" width="6" height="3" fill="#55a5cf" stroke="#22709c" stroke-width="1"/>
<rect x="593.5" y="582.5" width="7" height="8" fill="#55a5cf" stroke="#22709c" stroke-width="1"/>
<rect x="603.5" y="582.5" width="7" height="15" fill="#55a5cf" stroke="#22709c" stroke-width="1"/>
<rect x="614.5" y="582.5" width="6" height="14" fill="#55a5cf" stroke="#22709c" stroke-width="1"/>
<rect x="624.5" y="582.5" width="7" height="15" fill="#55a5cf" stroke="#22709c" stroke-width="1"/>
<rect x="634.5" y="582.5" width="7" height="16" fill="#55a5cf" stroke="#22709c" stroke-width="1"/>
<rect x="644.5" y="582.5" width="7" height="13" fill="#55a5cf" stroke="#22709c" stroke-width="1"/>
<polyline points="10.72,558.45 21.00,558.92 31.28,559.24 41.57,559.21 51.85,558.83 62.13,557.96 72.41,556.81 82.70,555.55 92.98,554.39 103.26,553.09 113.55,551.51 123.83,550.08 134.11,548.44 144.40,546.91 154.68,545.40 164.96,543.67 175.25,541.88 185.53,540.26 195.81,538.90 206.09,537.29 216.38,536.06 226.66,535.75 236.94,536.14 247.23,537.08 257.51,539.44 267.79,544.64 278.07,550.63 288.36,557.11 298.64,565.35 308.92,573.64 319.21,580.91 329.49,587.05 339.77,591.52 350.06,594.14 360.34,595.41 370.62,596.01 380.90,596.40 391.19,596.55 401.47,595.76 411.75,593.84 422.04,591.89 432.32,590.53 442.60,590.22 452.89,590.33 463.17,590.17 473.45,589.71 483.73,589.08 494.02,588.17 504.30,586.27 514.58,583.93 524.87,581.72 535.15,579.99 545.43,578.69 555.72,577.66 566.00,577.54 576.28,577.94 586.56,578.74 596.85,580.94 607.13,584.86 617.41,588.44 627.70,592.39 637.98,596.49 648.26,599.80" fill="none" stroke="#ff0000" stroke-width="1.05" stroke-linejoin="round"/>
<polyline points="10.72,559.00 21.00,560.80 31.28,560.54 41.57,559.09 51.85,557.28 62.13,554.49 72.41,552.22 82.70,550.49 92.98,549.75 103.26,547.88 113.55,545.19 123.83,544.36 134.11,541.88 144.40,540.79 154.68,539.35 164.96,536.75 175.25,534.71 185.53,533.78 195.81,533.47 206.09,530.87 216.38,531.10 226.66,534.55 236.94,537.69 247.23,540.81 257.51,548.92 267.79,565.44 278.07,574.59 288.36,583.01 298.64,598.32 308.92,606.79 319.21,610.00 329.49,611.60 339.77,609.43 350.06,604.61 360.34,600.49 370.62,598.43 380.90,597.94 391.19,597.14 401.47,592.61 411.75,586.14 422.04,584.09 432.32,585.10 442.60,588.99 452.89,590.79 463.17,589.53 473.45,587.85 483.73,586.58 494.02,584.49 504.30,578.71 514.58,574.53 524.87,572.88 535.15,573.07 545.43,573.51 555.72,573.55 566.00,577.07 576.28,579.54 586.56,581.94 596.85,589.74 607.13,600.56 617.41,602.75 627.70,608.21 637.98,612.85 648.26,613.04" fill="none" stroke="#000" stroke-width="1.65" stroke-linejoin="round"/>
</g>
<rect x="17.5" y="524.5" width="251" height="11.5" fill="#fff"/>
<line x1="19.6" y1="530.3" x2="28.2" y2="530.3" stroke="#000" stroke-width="2"/>
<text x="31.80" y="534.00" font-family='"DejaVu Sans", Verdana, sans-serif' font-size="10" font-weight="normal" fill="#000" stroke="#000" stroke-width="0.2" text-anchor="start" textLength="131.80" lengthAdjust="spacing" >MACD(12,26,9) -28.146</text>
<text x="165.00" y="534.00" font-family='"DejaVu Sans", Verdana, sans-serif' font-size="10" font-weight="normal" fill="#ff0000" stroke="#ff0000" stroke-width="0.2" text-anchor="start" textLength="50.00" lengthAdjust="spacing" >, -15.938</text>
<text x="216.50" y="534.00" font-family='"DejaVu Sans", Verdana, sans-serif' font-size="10" font-weight="normal" fill="#3399cc" stroke="#3399cc" stroke-width="0.2" text-anchor="start" textLength="49.50" lengthAdjust="spacing" >, -12.208</text>
<rect x="16.5" y="523.5" width="640.0" height="99.0" fill="none" stroke="#b4b4b4" stroke-width="1"/>
<line x1="656.5" y1="615.5" x2="658.5" y2="615.5" stroke="#c8c8c8" stroke-width="1"/>
<line x1="656.5" y1="604.5" x2="659.5" y2="604.5" stroke="#c8c8c8" stroke-width="1"/>
<line x1="656.5" y1="593.5" x2="658.5" y2="593.5" stroke="#c8c8c8" stroke-width="1"/>
<line x1="656.5" y1="582.5" x2="659.5" y2="582.5" stroke="#c8c8c8" stroke-width="1"/>
<line x1="656.5" y1="571.5" x2="658.5" y2="571.5" stroke="#c8c8c8" stroke-width="1"/>
<line x1="656.5" y1="560.5" x2="659.5" y2="560.5" stroke="#c8c8c8" stroke-width="1"/>
<line x1="656.5" y1="549.5" x2="658.5" y2="549.5" stroke="#c8c8c8" stroke-width="1"/>
<line x1="656.5" y1="539.5" x2="659.5" y2="539.5" stroke="#c8c8c8" stroke-width="1"/>
<line x1="656.5" y1="528.5" x2="658.5" y2="528.5" stroke="#c8c8c8" stroke-width="1"/>
<text x="663.30" y="542.20" font-family='"Liberation Sans", Arial, sans-serif' font-size="9.8" font-weight="normal" fill="#000" stroke="#000" stroke-width="0.2" text-anchor="start" textLength="11.30" lengthAdjust="spacing" >40</text>
<text x="663.30" y="563.20" font-family='"Liberation Sans", Arial, sans-serif' font-size="9.8" font-weight="normal" fill="#000" stroke="#000" stroke-width="0.2" text-anchor="start" textLength="11.30" lengthAdjust="spacing" >20</text>
<text x="669.30" y="585.20" font-family='"Liberation Sans", Arial, sans-serif' font-size="9.8" font-weight="normal" fill="#000" stroke="#000" stroke-width="0.2" text-anchor="start" textLength="5.30" lengthAdjust="spacing" >0</text>
<text x="659.70" y="607.20" font-family='"Liberation Sans", Arial, sans-serif' font-size="9.8" font-weight="normal" fill="#000" stroke="#000" stroke-width="0.2" text-anchor="start" textLength="14.90" lengthAdjust="spacing" >-20</text>
<path d="M654.2 595.45 L658 590.55 L696.6 590.55 L696.6 600.35 L658 600.35 Z" fill="#fff" stroke="#5070b0" stroke-width="1.1"/>
<text x="659.30" y="598.95" font-family='"Liberation Sans", Arial, sans-serif' font-size="10" font-weight="normal" fill="#000" stroke="#000" stroke-width="0.2" text-anchor="start" textLength="35.00" lengthAdjust="spacing" >-12.208</text>
<path d="M654.2 599.49 L658 594.59 L696.6 594.59 L696.6 604.39 L658 604.39 Z" fill="#fff" stroke="#ff0000" stroke-width="1.4"/>
<text x="659.30" y="602.99" font-family='"Liberation Sans", Arial, sans-serif' font-size="10" font-weight="normal" fill="#000" stroke="#000" stroke-width="0.2" text-anchor="start" textLength="35.00" lengthAdjust="spacing" >-15.938</text>
<path d="M654.2 612.74 L658 607.84 L696.6 607.84 L696.6 617.64 L658 617.64 Z" fill="#fff" stroke="#000" stroke-width="1.4"/>
<text x="659.30" y="616.24" font-family='"Liberation Sans", Arial, sans-serif' font-size="10" font-weight="normal" fill="#000" stroke="#000" stroke-width="0.2" text-anchor="start" textLength="35.00" lengthAdjust="spacing" >-28.146</text>
<line x1="21.5" y1="622.5" x2="21.5" y2="624.5" stroke="#c8c8c8"/>
<line x1="31.5" y1="622.5" x2="31.5" y2="624.5" stroke="#c8c8c8"/>
<line x1="41.5" y1="622.5" x2="41.5" y2="624.5" stroke="#c8c8c8"/>
<line x1="52.5" y1="622.5" x2="52.5" y2="624.5" stroke="#c8c8c8"/>
<line x1="62.5" y1="622.5" x2="62.5" y2="624.5" stroke="#c8c8c8"/>
<line x1="72.5" y1="622.5" x2="72.5" y2="624.5" stroke="#c8c8c8"/>
<line x1="83.5" y1="622.5" x2="83.5" y2="624.5" stroke="#c8c8c8"/>
<line x1="93.5" y1="622.5" x2="93.5" y2="624.5" stroke="#c8c8c8"/>
<line x1="103.5" y1="622.5" x2="103.5" y2="624.5" stroke="#c8c8c8"/>
<line x1="113.5" y1="622.5" x2="113.5" y2="624.5" stroke="#c8c8c8"/>
<line x1="124.5" y1="622.5" x2="124.5" y2="624.5" stroke="#c8c8c8"/>
<line x1="134.5" y1="622.5" x2="134.5" y2="624.5" stroke="#c8c8c8"/>
<line x1="144.5" y1="622.5" x2="144.5" y2="624.5" stroke="#c8c8c8"/>
<line x1="155.5" y1="622.5" x2="155.5" y2="624.5" stroke="#c8c8c8"/>
<line x1="165.5" y1="622.5" x2="165.5" y2="624.5" stroke="#c8c8c8"/>
<line x1="175.5" y1="622.5" x2="175.5" y2="624.5" stroke="#c8c8c8"/>
<line x1="185.5" y1="622.5" x2="185.5" y2="624.5" stroke="#c8c8c8"/>
<line x1="196.5" y1="622.5" x2="196.5" y2="624.5" stroke="#c8c8c8"/>
<line x1="206.5" y1="622.5" x2="206.5" y2="624.5" stroke="#c8c8c8"/>
<line x1="216.5" y1="622.5" x2="216.5" y2="624.5" stroke="#c8c8c8"/>
<line x1="227.5" y1="622.5" x2="227.5" y2="624.5" stroke="#c8c8c8"/>
<line x1="237.5" y1="622.5" x2="237.5" y2="624.5" stroke="#c8c8c8"/>
<line x1="247.5" y1="622.5" x2="247.5" y2="624.5" stroke="#c8c8c8"/>
<line x1="257.5" y1="622.5" x2="257.5" y2="624.5" stroke="#c8c8c8"/>
<line x1="268.5" y1="622.5" x2="268.5" y2="624.5" stroke="#c8c8c8"/>
<line x1="278.5" y1="622.5" x2="278.5" y2="624.5" stroke="#c8c8c8"/>
<line x1="288.5" y1="622.5" x2="288.5" y2="624.5" stroke="#c8c8c8"/>
<line x1="299.5" y1="622.5" x2="299.5" y2="624.5" stroke="#c8c8c8"/>
<line x1="309.5" y1="622.5" x2="309.5" y2="624.5" stroke="#c8c8c8"/>
<line x1="319.5" y1="622.5" x2="319.5" y2="624.5" stroke="#c8c8c8"/>
<line x1="329.5" y1="622.5" x2="329.5" y2="624.5" stroke="#c8c8c8"/>
<line x1="340.5" y1="622.5" x2="340.5" y2="624.5" stroke="#c8c8c8"/>
<line x1="350.5" y1="622.5" x2="350.5" y2="624.5" stroke="#c8c8c8"/>
<line x1="360.5" y1="622.5" x2="360.5" y2="624.5" stroke="#c8c8c8"/>
<line x1="371.5" y1="622.5" x2="371.5" y2="624.5" stroke="#c8c8c8"/>
<line x1="381.5" y1="622.5" x2="381.5" y2="624.5" stroke="#c8c8c8"/>
<line x1="391.5" y1="622.5" x2="391.5" y2="624.5" stroke="#c8c8c8"/>
<line x1="401.5" y1="622.5" x2="401.5" y2="624.5" stroke="#c8c8c8"/>
<line x1="412.5" y1="622.5" x2="412.5" y2="624.5" stroke="#c8c8c8"/>
<line x1="422.5" y1="622.5" x2="422.5" y2="624.5" stroke="#c8c8c8"/>
<line x1="432.5" y1="622.5" x2="432.5" y2="624.5" stroke="#c8c8c8"/>
<line x1="443.5" y1="622.5" x2="443.5" y2="624.5" stroke="#c8c8c8"/>
<line x1="453.5" y1="622.5" x2="453.5" y2="624.5" stroke="#c8c8c8"/>
<line x1="463.5" y1="622.5" x2="463.5" y2="624.5" stroke="#c8c8c8"/>
<line x1="473.5" y1="622.5" x2="473.5" y2="624.5" stroke="#c8c8c8"/>
<line x1="484.5" y1="622.5" x2="484.5" y2="624.5" stroke="#c8c8c8"/>
<line x1="494.5" y1="622.5" x2="494.5" y2="624.5" stroke="#c8c8c8"/>
<line x1="504.5" y1="622.5" x2="504.5" y2="624.5" stroke="#c8c8c8"/>
<line x1="514.5" y1="622.5" x2="514.5" y2="624.5" stroke="#c8c8c8"/>
<line x1="525.5" y1="622.5" x2="525.5" y2="624.5" stroke="#c8c8c8"/>
<line x1="535.5" y1="622.5" x2="535.5" y2="624.5" stroke="#c8c8c8"/>
<line x1="545.5" y1="622.5" x2="545.5" y2="624.5" stroke="#c8c8c8"/>
<line x1="556.5" y1="622.5" x2="556.5" y2="624.5" stroke="#c8c8c8"/>
<line x1="566.5" y1="622.5" x2="566.5" y2="624.5" stroke="#c8c8c8"/>
<line x1="576.5" y1="622.5" x2="576.5" y2="624.5" stroke="#c8c8c8"/>
<line x1="586.5" y1="622.5" x2="586.5" y2="624.5" stroke="#c8c8c8"/>
<line x1="597.5" y1="622.5" x2="597.5" y2="624.5" stroke="#c8c8c8"/>
<line x1="607.5" y1="622.5" x2="607.5" y2="624.5" stroke="#c8c8c8"/>
<line x1="617.5" y1="622.5" x2="617.5" y2="624.5" stroke="#c8c8c8"/>
<line x1="628.5" y1="622.5" x2="628.5" y2="624.5" stroke="#c8c8c8"/>
<line x1="638.5" y1="622.5" x2="638.5" y2="624.5" stroke="#c8c8c8"/>
<line x1="648.5" y1="622.5" x2="648.5" y2="624.5" stroke="#c8c8c8"/>
<text x="30.40" y="632.80" font-family='"DejaVu Sans", Verdana, sans-serif' font-size="10" font-weight="bold" fill="#000" stroke="#000" stroke-width="0.08" text-anchor="middle" textLength="24.20" lengthAdjust="spacingAndGlyphs" >2018</text>
<text x="72.50" y="632.80" font-family='"Liberation Sans", Arial, sans-serif' font-size="10" font-weight="normal" fill="#000" stroke="#000" stroke-width="0.2" text-anchor="middle" textLength="5.30" lengthAdjust="spacing" >8</text>
<text x="123.50" y="632.80" font-family='"Liberation Sans", Arial, sans-serif' font-size="10" font-weight="normal" fill="#000" stroke="#000" stroke-width="0.2" text-anchor="middle" textLength="11.20" lengthAdjust="spacing" >16</text>
<text x="164.50" y="632.80" font-family='"Liberation Sans", Arial, sans-serif' font-size="10" font-weight="normal" fill="#000" stroke="#000" stroke-width="0.2" text-anchor="middle" textLength="11.20" lengthAdjust="spacing" >22</text>
<text x="215.50" y="632.80" font-family='"Liberation Sans", Arial, sans-serif' font-size="10" font-weight="normal" fill="#000" stroke="#000" stroke-width="0.2" text-anchor="middle" textLength="11.20" lengthAdjust="spacing" >29</text>
<text x="246.40" y="632.80" font-family='"DejaVu Sans", Verdana, sans-serif' font-size="10" font-weight="bold" fill="#000" stroke="#000" stroke-width="0.08" text-anchor="middle" textLength="20.20" lengthAdjust="spacingAndGlyphs" >Feb</text>
<text x="268.50" y="632.80" font-family='"Liberation Sans", Arial, sans-serif' font-size="10" font-weight="normal" fill="#000" stroke="#000" stroke-width="0.2" text-anchor="middle" textLength="5.30" lengthAdjust="spacing" >5</text>
<text x="318.50" y="632.80" font-family='"Liberation Sans", Arial, sans-serif' font-size="10" font-weight="normal" fill="#000" stroke="#000" stroke-width="0.2" text-anchor="middle" textLength="11.20" lengthAdjust="spacing" >12</text>
<text x="370.50" y="632.80" font-family='"Liberation Sans", Arial, sans-serif' font-size="10" font-weight="normal" fill="#000" stroke="#000" stroke-width="0.2" text-anchor="middle" textLength="11.20" lengthAdjust="spacing" >20</text>
<text x="411.50" y="632.80" font-family='"Liberation Sans", Arial, sans-serif' font-size="10" font-weight="normal" fill="#000" stroke="#000" stroke-width="0.2" text-anchor="middle" textLength="11.20" lengthAdjust="spacing" >26</text>
<text x="442.40" y="632.80" font-family='"DejaVu Sans", Verdana, sans-serif' font-size="10" font-weight="bold" fill="#000" stroke="#000" stroke-width="0.08" text-anchor="middle" textLength="21.00" lengthAdjust="spacingAndGlyphs" >Mar</text>
<text x="463.50" y="632.80" font-family='"Liberation Sans", Arial, sans-serif' font-size="10" font-weight="normal" fill="#000" stroke="#000" stroke-width="0.2" text-anchor="middle" textLength="5.30" lengthAdjust="spacing" >5</text>
<text x="513.50" y="632.80" font-family='"Liberation Sans", Arial, sans-serif' font-size="10" font-weight="normal" fill="#000" stroke="#000" stroke-width="0.2" text-anchor="middle" textLength="11.20" lengthAdjust="spacing" >12</text>
<text x="565.50" y="632.80" font-family='"Liberation Sans", Arial, sans-serif' font-size="10" font-weight="normal" fill="#000" stroke="#000" stroke-width="0.2" text-anchor="middle" textLength="11.20" lengthAdjust="spacing" >19</text>
<text x="616.50" y="632.80" font-family='"Liberation Sans", Arial, sans-serif' font-size="10" font-weight="normal" fill="#000" stroke="#000" stroke-width="0.2" text-anchor="middle" textLength="11.20" lengthAdjust="spacing" >26</text>
<rect x="31" y="637" width="1" height="1" fill="#d4d4d4"/>
<rect x="72" y="637" width="1" height="1" fill="#d4d4d4"/>
<rect x="124" y="637" width="1" height="1" fill="#d4d4d4"/>
<rect x="165" y="637" width="1" height="1" fill="#d4d4d4"/>
<rect x="216" y="637" width="1" height="1" fill="#d4d4d4"/>
<rect x="247" y="637" width="1" height="1" fill="#d4d4d4"/>
<rect x="268" y="637" width="1" height="1" fill="#d4d4d4"/>
<rect x="319" y="637" width="1" height="1" fill="#d4d4d4"/>
<rect x="371" y="637" width="1" height="1" fill="#d4d4d4"/>
<rect x="412" y="637" width="1" height="1" fill="#d4d4d4"/>
<rect x="443" y="637" width="1" height="1" fill="#d4d4d4"/>
<rect x="463" y="637" width="1" height="1" fill="#d4d4d4"/>
<rect x="514" y="637" width="1" height="1" fill="#d4d4d4"/>
<rect x="566" y="637" width="1" height="1" fill="#d4d4d4"/>
<rect x="617" y="637" width="1" height="1" fill="#d4d4d4"/>
</svg></body></html>
